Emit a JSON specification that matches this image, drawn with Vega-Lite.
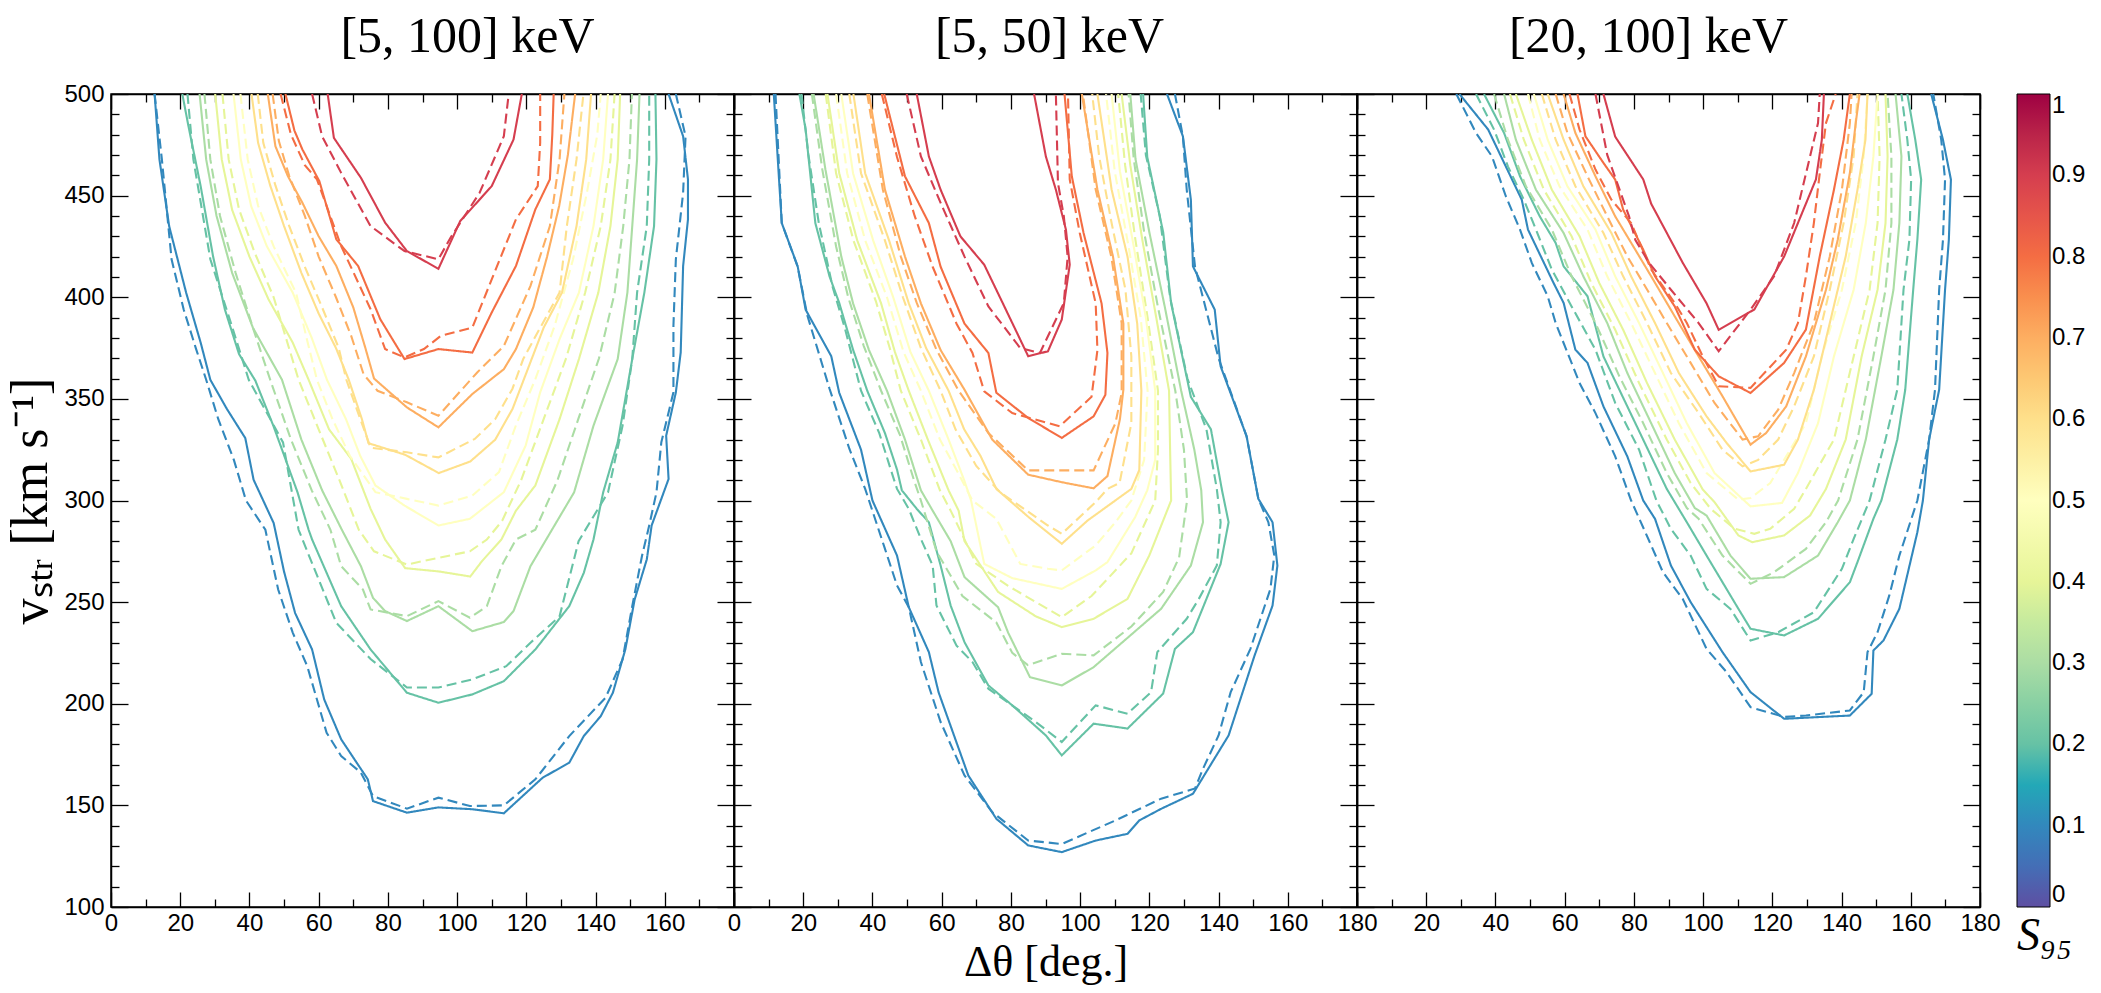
{
"$schema": "https://vega.github.io/schema/vega-lite/v6.json",
"padding": {"left": 4, "top": 11, "right": 0, "bottom": 0},
"background": "white",
"config": {
  "view": {"stroke": "black", "strokeWidth": 1.5},
  "axis": {"grid": false, "domainColor": "black", "domainWidth": 1.5, "tickColor": "black", "tickWidth": 1.3, "labelFont": "Liberation Sans", "labelFontSize": 24, "labelColor": "black", "titleFont": "Liberation Serif", "titleFontWeight": "normal", "titleColor": "black", "labelFlush": false, "labelOverlap": false},
  "title": {"font": "Liberation Serif", "fontSize": 50, "fontWeight": "normal", "color": "black"},
  "line": {"strokeWidth": 2.1, "strokeCap": "butt"},
  "legend": {"orient": "none", "legendX": 1906, "legendY": 0, "direction": "vertical", "gradientLength": 813, "gradientThickness": 33, "gradientStrokeColor": "black", "gradientStrokeWidth": 1, "labelFont": "Liberation Sans", "labelFontSize": 24, "labelColor": "black", "labelOffset": 6, "labelBaseline": "middle", "titleOrient": "bottom", "titleFont": "Liberation Serif", "titleFontSize": 46, "titleFontStyle": "italic", "titleFontWeight": "normal", "titleColor": "black", "titlePadding": 6, "titleAlign": "left", "padding": 0}
},
"datasets": {"c": [
{"p":1,"l":0.1,"d":0,"x":12.6,"y":500},{"p":1,"l":0.1,"d":0,"x":14,"y":467.8},{"p":1,"l":0.1,"d":0,"x":16.8,"y":435},{"p":1,"l":0.1,"d":0,"x":21.7,"y":402.3},{"p":1,"l":0.1,"d":0,"x":25.9,"y":377.7},{"p":1,"l":0.1,"d":0,"x":28.7,"y":359.4},{"p":1,"l":0.1,"d":0,"x":33.5,"y":345},{"p":1,"l":0.1,"d":0,"x":38.8,"y":330.7},{"p":1,"l":0.1,"d":0,"x":41.2,"y":310.2},{"p":1,"l":0.1,"d":0,"x":47,"y":288.9},{"p":1,"l":0.1,"d":0,"x":50,"y":265},{"p":1,"l":0.1,"d":0,"x":53.2,"y":244.6},{"p":1,"l":0.1,"d":0,"x":58.1,"y":226.7},{"p":1,"l":0.1,"d":0,"x":61.6,"y":202.1},{"p":1,"l":0.1,"d":0,"x":66.5,"y":182.5},{"p":1,"l":0.1,"d":0,"x":74.2,"y":162.8},{"p":1,"l":0.1,"d":0,"x":75.7,"y":152.1},{"p":1,"l":0.1,"d":0,"x":85.5,"y":146.4},{"p":1,"l":0.1,"d":0,"x":94.6,"y":149},{"p":1,"l":0.1,"d":0,"x":104.4,"y":148.1},{"p":1,"l":0.1,"d":0,"x":113.5,"y":146.1},{"p":1,"l":0.1,"d":0,"x":124.7,"y":163.6},{"p":1,"l":0.1,"d":0,"x":132.4,"y":171},{"p":1,"l":0.1,"d":0,"x":136.6,"y":184.1},{"p":1,"l":0.1,"d":0,"x":141.5,"y":193.9},{"p":1,"l":0.1,"d":0,"x":145,"y":205.4},{"p":1,"l":0.1,"d":0,"x":148.6,"y":226.7},{"p":1,"l":0.1,"d":0,"x":151.3,"y":251.3},{"p":1,"l":0.1,"d":0,"x":154.8,"y":271},{"p":1,"l":0.1,"d":0,"x":156.2,"y":287.7},{"p":1,"l":0.1,"d":0,"x":161.1,"y":310.6},{"p":1,"l":0.1,"d":0,"x":160.4,"y":331.9},{"p":1,"l":0.1,"d":0,"x":163.2,"y":353.2},{"p":1,"l":0.1,"d":0,"x":164.6,"y":372.8},{"p":1,"l":0.1,"d":0,"x":165.3,"y":415.4},{"p":1,"l":0.1,"d":0,"x":166.7,"y":438.3},{"p":1,"l":0.1,"d":0,"x":166.7,"y":458},{"p":1,"l":0.1,"d":0,"x":165.3,"y":479.2},{"p":1,"l":0.1,"d":0,"x":161.1,"y":500},
{"p":1,"l":0.1,"d":1,"x":12.6,"y":500},{"p":1,"l":0.1,"d":1,"x":14.7,"y":467.8},{"p":1,"l":0.1,"d":1,"x":17.5,"y":418.7},{"p":1,"l":0.1,"d":1,"x":21,"y":394},{"p":1,"l":0.1,"d":1,"x":24.5,"y":375},{"p":1,"l":0.1,"d":1,"x":27.5,"y":359.4},{"p":1,"l":0.1,"d":1,"x":31,"y":340},{"p":1,"l":0.1,"d":1,"x":35.5,"y":320},{"p":1,"l":0.1,"d":1,"x":39,"y":300},{"p":1,"l":0.1,"d":1,"x":44.6,"y":285.6},{"p":1,"l":0.1,"d":1,"x":48.3,"y":256.2},{"p":1,"l":0.1,"d":1,"x":52.5,"y":235},{"p":1,"l":0.1,"d":1,"x":56.7,"y":218.5},{"p":1,"l":0.1,"d":1,"x":62.3,"y":185.7},{"p":1,"l":0.1,"d":1,"x":66.5,"y":174.3},{"p":1,"l":0.1,"d":1,"x":72.2,"y":166.1},{"p":1,"l":0.1,"d":1,"x":75.7,"y":154.6},{"p":1,"l":0.1,"d":1,"x":85.5,"y":148.4},{"p":1,"l":0.1,"d":1,"x":94.6,"y":153.8},{"p":1,"l":0.1,"d":1,"x":103.7,"y":149.7},{"p":1,"l":0.1,"d":1,"x":113.5,"y":150},{"p":1,"l":0.1,"d":1,"x":122.6,"y":162.8},{"p":1,"l":0.1,"d":1,"x":132.4,"y":184.1},{"p":1,"l":0.1,"d":1,"x":142.9,"y":203},{"p":1,"l":0.1,"d":1,"x":147.8,"y":221.8},{"p":1,"l":0.1,"d":1,"x":150.6,"y":248},{"p":1,"l":0.1,"d":1,"x":153.4,"y":272.6},{"p":1,"l":0.1,"d":1,"x":155.5,"y":287.7},{"p":1,"l":0.1,"d":1,"x":157.6,"y":304},{"p":1,"l":0.1,"d":1,"x":159,"y":328.6},{"p":1,"l":0.1,"d":1,"x":162.5,"y":353.2},{"p":1,"l":0.1,"d":1,"x":162.5,"y":386},{"p":1,"l":0.1,"d":1,"x":163.2,"y":418.7},{"p":1,"l":0.1,"d":1,"x":165.3,"y":451.4},{"p":1,"l":0.1,"d":1,"x":166,"y":479.2},{"p":1,"l":0.1,"d":1,"x":163.2,"y":500},
{"p":1,"l":0.2,"d":0,"x":20.6,"y":500},{"p":1,"l":0.2,"d":0,"x":22.4,"y":484},{"p":1,"l":0.2,"d":0,"x":25.9,"y":454.7},{"p":1,"l":0.2,"d":0,"x":29.5,"y":420},{"p":1,"l":0.2,"d":0,"x":32.9,"y":394},{"p":1,"l":0.2,"d":0,"x":37,"y":372},{"p":1,"l":0.2,"d":0,"x":41.7,"y":359},{"p":1,"l":0.2,"d":0,"x":46.9,"y":336.8},{"p":1,"l":0.2,"d":0,"x":53.9,"y":304},{"p":1,"l":0.2,"d":0,"x":57.1,"y":285.6},{"p":1,"l":0.2,"d":0,"x":58.1,"y":280.8},{"p":1,"l":0.2,"d":0,"x":66.5,"y":248},{"p":1,"l":0.2,"d":0,"x":75,"y":226.7},{"p":1,"l":0.2,"d":0,"x":85.5,"y":205.4},{"p":1,"l":0.2,"d":0,"x":94.6,"y":200.5},{"p":1,"l":0.2,"d":0,"x":104.4,"y":204.6},{"p":1,"l":0.2,"d":0,"x":113.5,"y":211.1},{"p":1,"l":0.2,"d":0,"x":122.6,"y":226.7},{"p":1,"l":0.2,"d":0,"x":132.4,"y":248},{"p":1,"l":0.2,"d":0,"x":136.6,"y":264.4},{"p":1,"l":0.2,"d":0,"x":139.4,"y":280.8},{"p":1,"l":0.2,"d":0,"x":142.2,"y":304},{"p":1,"l":0.2,"d":0,"x":146.4,"y":328.6},{"p":1,"l":0.2,"d":0,"x":150.6,"y":369.6},{"p":1,"l":0.2,"d":0,"x":154.1,"y":402.3},{"p":1,"l":0.2,"d":0,"x":156.9,"y":435},{"p":1,"l":0.2,"d":0,"x":157.6,"y":467.8},{"p":1,"l":0.2,"d":0,"x":157.3,"y":500},
{"p":1,"l":0.2,"d":1,"x":22.1,"y":500},{"p":1,"l":0.2,"d":1,"x":23.8,"y":467.8},{"p":1,"l":0.2,"d":1,"x":28.7,"y":418.7},{"p":1,"l":0.2,"d":1,"x":34.3,"y":389.2},{"p":1,"l":0.2,"d":1,"x":39.8,"y":359.4},{"p":1,"l":0.2,"d":1,"x":49.7,"y":328.6},{"p":1,"l":0.2,"d":1,"x":54.2,"y":285.6},{"p":1,"l":0.2,"d":1,"x":56.7,"y":275},{"p":1,"l":0.2,"d":1,"x":65.1,"y":239.8},{"p":1,"l":0.2,"d":1,"x":75,"y":222},{"p":1,"l":0.2,"d":1,"x":85.5,"y":208},{"p":1,"l":0.2,"d":1,"x":94.6,"y":208},{"p":1,"l":0.2,"d":1,"x":104.4,"y":212},{"p":1,"l":0.2,"d":1,"x":114.2,"y":218.5},{"p":1,"l":0.2,"d":1,"x":121.2,"y":230},{"p":1,"l":0.2,"d":1,"x":129.6,"y":243},{"p":1,"l":0.2,"d":1,"x":135.1,"y":280},{"p":1,"l":0.2,"d":1,"x":143.6,"y":304},{"p":1,"l":0.2,"d":1,"x":147.8,"y":336.8},{"p":1,"l":0.2,"d":1,"x":150.6,"y":369.6},{"p":1,"l":0.2,"d":1,"x":152,"y":402.3},{"p":1,"l":0.2,"d":1,"x":154.8,"y":435},{"p":1,"l":0.2,"d":1,"x":155.5,"y":467.8},{"p":1,"l":0.2,"d":1,"x":155.5,"y":500},
{"p":1,"l":0.3,"d":0,"x":25.6,"y":500},{"p":1,"l":0.3,"d":0,"x":27.5,"y":467.8},{"p":1,"l":0.3,"d":0,"x":30.5,"y":440},{"p":1,"l":0.3,"d":0,"x":35,"y":412},{"p":1,"l":0.3,"d":0,"x":41,"y":385},{"p":1,"l":0.3,"d":0,"x":49.4,"y":359.4},{"p":1,"l":0.3,"d":0,"x":55,"y":330},{"p":1,"l":0.3,"d":0,"x":61,"y":305},{"p":1,"l":0.3,"d":0,"x":66.7,"y":285.6},{"p":1,"l":0.3,"d":0,"x":72.2,"y":267.7},{"p":1,"l":0.3,"d":0,"x":75.7,"y":252.1},{"p":1,"l":0.3,"d":0,"x":79.2,"y":245.6},{"p":1,"l":0.3,"d":0,"x":85.5,"y":240.7},{"p":1,"l":0.3,"d":0,"x":94.6,"y":248},{"p":1,"l":0.3,"d":0,"x":104.4,"y":235.7},{"p":1,"l":0.3,"d":0,"x":113.5,"y":240.2},{"p":1,"l":0.3,"d":0,"x":116.3,"y":245.6},{"p":1,"l":0.3,"d":0,"x":121.2,"y":267.7},{"p":1,"l":0.3,"d":0,"x":127.4,"y":285.6},{"p":1,"l":0.3,"d":0,"x":133.8,"y":304},{"p":1,"l":0.3,"d":0,"x":139.4,"y":336.8},{"p":1,"l":0.3,"d":0,"x":146.4,"y":369.6},{"p":1,"l":0.3,"d":0,"x":149.2,"y":402.3},{"p":1,"l":0.3,"d":0,"x":150.6,"y":435},{"p":1,"l":0.3,"d":0,"x":152,"y":467.8},{"p":1,"l":0.3,"d":0,"x":152.7,"y":500},
{"p":1,"l":0.3,"d":1,"x":27,"y":500},{"p":1,"l":0.3,"d":1,"x":28.7,"y":467.8},{"p":1,"l":0.3,"d":1,"x":31.5,"y":440},{"p":1,"l":0.3,"d":1,"x":36,"y":412},{"p":1,"l":0.3,"d":1,"x":41,"y":385},{"p":1,"l":0.3,"d":1,"x":46,"y":359.4},{"p":1,"l":0.3,"d":1,"x":52,"y":330},{"p":1,"l":0.3,"d":1,"x":58,"y":305},{"p":1,"l":0.3,"d":1,"x":63.4,"y":285.6},{"p":1,"l":0.3,"d":1,"x":66.5,"y":267.7},{"p":1,"l":0.3,"d":1,"x":72.8,"y":256.2},{"p":1,"l":0.3,"d":1,"x":75,"y":246.4},{"p":1,"l":0.3,"d":1,"x":85.5,"y":243.1},{"p":1,"l":0.3,"d":1,"x":94.6,"y":250.5},{"p":1,"l":0.3,"d":1,"x":103.7,"y":242.3},{"p":1,"l":0.3,"d":1,"x":108.6,"y":248},{"p":1,"l":0.3,"d":1,"x":112.8,"y":267.7},{"p":1,"l":0.3,"d":1,"x":117,"y":280.8},{"p":1,"l":0.3,"d":1,"x":122.6,"y":285.6},{"p":1,"l":0.3,"d":1,"x":129,"y":310},{"p":1,"l":0.3,"d":1,"x":135,"y":340},{"p":1,"l":0.3,"d":1,"x":141,"y":370},{"p":1,"l":0.3,"d":1,"x":145.5,"y":402},{"p":1,"l":0.3,"d":1,"x":148,"y":435},{"p":1,"l":0.3,"d":1,"x":149.8,"y":467.8},{"p":1,"l":0.3,"d":1,"x":150.5,"y":500},
{"p":1,"l":0.4,"d":0,"x":30.1,"y":500},{"p":1,"l":0.4,"d":0,"x":32,"y":467.8},{"p":1,"l":0.4,"d":0,"x":35,"y":443},{"p":1,"l":0.4,"d":0,"x":40,"y":420},{"p":1,"l":0.4,"d":0,"x":45.5,"y":399},{"p":1,"l":0.4,"d":0,"x":52.5,"y":377.7},{"p":1,"l":0.4,"d":0,"x":57.1,"y":359.4},{"p":1,"l":0.4,"d":0,"x":63,"y":335},{"p":1,"l":0.4,"d":0,"x":69.4,"y":320.5},{"p":1,"l":0.4,"d":0,"x":75,"y":295.9},{"p":1,"l":0.4,"d":0,"x":79.2,"y":280.8},{"p":1,"l":0.4,"d":0,"x":85,"y":266.7},{"p":1,"l":0.4,"d":0,"x":94.7,"y":265.1},{"p":1,"l":0.4,"d":0,"x":103.8,"y":262.6},{"p":1,"l":0.4,"d":0,"x":107.2,"y":270.2},{"p":1,"l":0.4,"d":0,"x":112.8,"y":280.8},{"p":1,"l":0.4,"d":0,"x":117,"y":295},{"p":1,"l":0.4,"d":0,"x":122.6,"y":307.4},{"p":1,"l":0.4,"d":0,"x":129.6,"y":340},{"p":1,"l":0.4,"d":0,"x":135.2,"y":369.6},{"p":1,"l":0.4,"d":0,"x":140.8,"y":402.3},{"p":1,"l":0.4,"d":0,"x":144.3,"y":435},{"p":1,"l":0.4,"d":0,"x":146.4,"y":467.8},{"p":1,"l":0.4,"d":0,"x":147.1,"y":500},
{"p":1,"l":0.4,"d":1,"x":32.2,"y":500},{"p":1,"l":0.4,"d":1,"x":34,"y":467.8},{"p":1,"l":0.4,"d":1,"x":37,"y":443.2},{"p":1,"l":0.4,"d":1,"x":41.5,"y":422},{"p":1,"l":0.4,"d":1,"x":47,"y":400},{"p":1,"l":0.4,"d":1,"x":54.2,"y":359.4},{"p":1,"l":0.4,"d":1,"x":60,"y":335},{"p":1,"l":0.4,"d":1,"x":66,"y":310},{"p":1,"l":0.4,"d":1,"x":71.6,"y":285.6},{"p":1,"l":0.4,"d":1,"x":76,"y":275},{"p":1,"l":0.4,"d":1,"x":85.5,"y":268.5},{"p":1,"l":0.4,"d":1,"x":94.6,"y":271.8},{"p":1,"l":0.4,"d":1,"x":103.7,"y":275},{"p":1,"l":0.4,"d":1,"x":108.6,"y":280.8},{"p":1,"l":0.4,"d":1,"x":113,"y":290},{"p":1,"l":0.4,"d":1,"x":118.5,"y":310},{"p":1,"l":0.4,"d":1,"x":125,"y":340},{"p":1,"l":0.4,"d":1,"x":131.5,"y":370},{"p":1,"l":0.4,"d":1,"x":137,"y":402.3},{"p":1,"l":0.4,"d":1,"x":141.5,"y":435},{"p":1,"l":0.4,"d":1,"x":144.3,"y":467.8},{"p":1,"l":0.4,"d":1,"x":145.5,"y":500},
{"p":1,"l":0.5,"d":0,"x":35.4,"y":500},{"p":1,"l":0.5,"d":0,"x":37.5,"y":467.8},{"p":1,"l":0.5,"d":0,"x":40.5,"y":444.8},{"p":1,"l":0.5,"d":0,"x":45,"y":425.2},{"p":1,"l":0.5,"d":0,"x":52.5,"y":402.3},{"p":1,"l":0.5,"d":0,"x":58,"y":380},{"p":1,"l":0.5,"d":0,"x":62.4,"y":359.4},{"p":1,"l":0.5,"d":0,"x":67.9,"y":340},{"p":1,"l":0.5,"d":0,"x":72,"y":322},{"p":1,"l":0.5,"d":0,"x":76.4,"y":307.4},{"p":1,"l":0.5,"d":0,"x":84.8,"y":297.5},{"p":1,"l":0.5,"d":0,"x":94.6,"y":287.7},{"p":1,"l":0.5,"d":0,"x":103.7,"y":291},{"p":1,"l":0.5,"d":0,"x":113.5,"y":304.1},{"p":1,"l":0.5,"d":0,"x":119.8,"y":327},{"p":1,"l":0.5,"d":0,"x":124,"y":353.2},{"p":1,"l":0.5,"d":0,"x":129.6,"y":379.4},{"p":1,"l":0.5,"d":0,"x":135.2,"y":402.3},{"p":1,"l":0.5,"d":0,"x":139.4,"y":435},{"p":1,"l":0.5,"d":0,"x":142.2,"y":467.8},{"p":1,"l":0.5,"d":0,"x":143.6,"y":500},
{"p":1,"l":0.5,"d":1,"x":37.4,"y":500},{"p":1,"l":0.5,"d":1,"x":39.5,"y":467.8},{"p":1,"l":0.5,"d":1,"x":42.5,"y":445},{"p":1,"l":0.5,"d":1,"x":47,"y":425},{"p":1,"l":0.5,"d":1,"x":53.5,"y":402},{"p":1,"l":0.5,"d":1,"x":56.5,"y":380},{"p":1,"l":0.5,"d":1,"x":59.5,"y":359.4},{"p":1,"l":0.5,"d":1,"x":64,"y":340},{"p":1,"l":0.5,"d":1,"x":69,"y":322},{"p":1,"l":0.5,"d":1,"x":76.4,"y":304.1},{"p":1,"l":0.5,"d":1,"x":85.5,"y":300.8},{"p":1,"l":0.5,"d":1,"x":94.6,"y":297.5},{"p":1,"l":0.5,"d":1,"x":104.4,"y":302.4},{"p":1,"l":0.5,"d":1,"x":112.1,"y":314},{"p":1,"l":0.5,"d":1,"x":117,"y":337},{"p":1,"l":0.5,"d":1,"x":122.6,"y":359.7},{"p":1,"l":0.5,"d":1,"x":128.2,"y":386},{"p":1,"l":0.5,"d":1,"x":133.5,"y":418.7},{"p":1,"l":0.5,"d":1,"x":137.5,"y":451.4},{"p":1,"l":0.5,"d":1,"x":140.5,"y":480},{"p":1,"l":0.5,"d":1,"x":141.5,"y":500},
{"p":1,"l":0.6,"d":0,"x":40.6,"y":500},{"p":1,"l":0.6,"d":0,"x":42.5,"y":476},{"p":1,"l":0.6,"d":0,"x":46,"y":455},{"p":1,"l":0.6,"d":0,"x":50,"y":435},{"p":1,"l":0.6,"d":0,"x":55,"y":412},{"p":1,"l":0.6,"d":0,"x":60,"y":392},{"p":1,"l":0.6,"d":0,"x":65,"y":375},{"p":1,"l":0.6,"d":0,"x":68.7,"y":359.4},{"p":1,"l":0.6,"d":0,"x":72.5,"y":340},{"p":1,"l":0.6,"d":0,"x":74.4,"y":328.2},{"p":1,"l":0.6,"d":0,"x":85,"y":322.5},{"p":1,"l":0.6,"d":0,"x":94.7,"y":313.5},{"p":1,"l":0.6,"d":0,"x":103.8,"y":319.2},{"p":1,"l":0.6,"d":0,"x":111,"y":329.9},{"p":1,"l":0.6,"d":0,"x":116,"y":345},{"p":1,"l":0.6,"d":0,"x":120.5,"y":365},{"p":1,"l":0.6,"d":0,"x":125,"y":385},{"p":1,"l":0.6,"d":0,"x":130.3,"y":402.3},{"p":1,"l":0.6,"d":0,"x":134.5,"y":435},{"p":1,"l":0.6,"d":0,"x":137.3,"y":467.8},{"p":1,"l":0.6,"d":0,"x":138.7,"y":500},
{"p":1,"l":0.6,"d":1,"x":42.4,"y":500},{"p":1,"l":0.6,"d":1,"x":44,"y":476},{"p":1,"l":0.6,"d":1,"x":47.5,"y":455},{"p":1,"l":0.6,"d":1,"x":51.5,"y":435},{"p":1,"l":0.6,"d":1,"x":56,"y":415},{"p":1,"l":0.6,"d":1,"x":61,"y":395},{"p":1,"l":0.6,"d":1,"x":65.8,"y":375},{"p":1,"l":0.6,"d":1,"x":68,"y":359.4},{"p":1,"l":0.6,"d":1,"x":71,"y":345},{"p":1,"l":0.6,"d":1,"x":75,"y":326},{"p":1,"l":0.6,"d":1,"x":85.5,"y":323.7},{"p":1,"l":0.6,"d":1,"x":94.6,"y":321.2},{"p":1,"l":0.6,"d":1,"x":105.1,"y":330.3},{"p":1,"l":0.6,"d":1,"x":111,"y":340},{"p":1,"l":0.6,"d":1,"x":116,"y":355},{"p":1,"l":0.6,"d":1,"x":119.1,"y":369.6},{"p":1,"l":0.6,"d":1,"x":124,"y":385},{"p":1,"l":0.6,"d":1,"x":129.6,"y":402.3},{"p":1,"l":0.6,"d":1,"x":131.7,"y":435},{"p":1,"l":0.6,"d":1,"x":134.5,"y":467.8},{"p":1,"l":0.6,"d":1,"x":136.5,"y":500},
{"p":1,"l":0.7,"d":0,"x":45.3,"y":500},{"p":1,"l":0.7,"d":0,"x":47.5,"y":474.3},{"p":1,"l":0.7,"d":0,"x":51.1,"y":459.6},{"p":1,"l":0.7,"d":0,"x":55.3,"y":446.5},{"p":1,"l":0.7,"d":0,"x":60,"y":430},{"p":1,"l":0.7,"d":0,"x":65.1,"y":415.4},{"p":1,"l":0.7,"d":0,"x":70,"y":395},{"p":1,"l":0.7,"d":0,"x":73.5,"y":375},{"p":1,"l":0.7,"d":0,"x":76,"y":360},{"p":1,"l":0.7,"d":0,"x":85.5,"y":345.8},{"p":1,"l":0.7,"d":0,"x":94.6,"y":336},{"p":1,"l":0.7,"d":0,"x":104.4,"y":352.4},{"p":1,"l":0.7,"d":0,"x":113.5,"y":364.6},{"p":1,"l":0.7,"d":0,"x":117,"y":374.5},{"p":1,"l":0.7,"d":0,"x":122,"y":395},{"p":1,"l":0.7,"d":0,"x":126,"y":420},{"p":1,"l":0.7,"d":0,"x":129.5,"y":445},{"p":1,"l":0.7,"d":0,"x":132,"y":470},{"p":1,"l":0.7,"d":0,"x":134.1,"y":500},
{"p":1,"l":0.7,"d":1,"x":46.7,"y":500},{"p":1,"l":0.7,"d":1,"x":48.5,"y":476.8},{"p":1,"l":0.7,"d":1,"x":51.5,"y":459.6},{"p":1,"l":0.7,"d":1,"x":56,"y":440},{"p":1,"l":0.7,"d":1,"x":60,"y":420},{"p":1,"l":0.7,"d":1,"x":65,"y":400},{"p":1,"l":0.7,"d":1,"x":69.4,"y":381},{"p":1,"l":0.7,"d":1,"x":73,"y":362},{"p":1,"l":0.7,"d":1,"x":77,"y":354},{"p":1,"l":0.7,"d":1,"x":85.5,"y":348.3},{"p":1,"l":0.7,"d":1,"x":94.6,"y":341.7},{"p":1,"l":0.7,"d":1,"x":105.8,"y":363},{"p":1,"l":0.7,"d":1,"x":113.5,"y":376},{"p":1,"l":0.7,"d":1,"x":121.2,"y":405.6},{"p":1,"l":0.7,"d":1,"x":126.8,"y":435},{"p":1,"l":0.7,"d":1,"x":129.6,"y":467.8},{"p":1,"l":0.7,"d":1,"x":131,"y":500},
{"p":1,"l":0.8,"d":0,"x":50.4,"y":500},{"p":1,"l":0.8,"d":0,"x":53,"y":482},{"p":1,"l":0.8,"d":0,"x":55.3,"y":472.7},{"p":1,"l":0.8,"d":0,"x":60.2,"y":457.1},{"p":1,"l":0.8,"d":0,"x":65.1,"y":428.5},{"p":1,"l":0.8,"d":0,"x":71.4,"y":415.4},{"p":1,"l":0.8,"d":0,"x":77.8,"y":389.2},{"p":1,"l":0.8,"d":0,"x":84.8,"y":369.6},{"p":1,"l":0.8,"d":0,"x":94.6,"y":374.5},{"p":1,"l":0.8,"d":0,"x":104.4,"y":372.8},{"p":1,"l":0.8,"d":0,"x":110,"y":392.5},{"p":1,"l":0.8,"d":0,"x":117,"y":415.4},{"p":1,"l":0.8,"d":0,"x":122.6,"y":443.2},{"p":1,"l":0.8,"d":0,"x":126.8,"y":458},{"p":1,"l":0.8,"d":0,"x":127.5,"y":480},{"p":1,"l":0.8,"d":0,"x":127.9,"y":500},
{"p":1,"l":0.8,"d":1,"x":49,"y":500},{"p":1,"l":0.8,"d":1,"x":52,"y":480},{"p":1,"l":0.8,"d":1,"x":56,"y":465},{"p":1,"l":0.8,"d":1,"x":59.5,"y":458},{"p":1,"l":0.8,"d":1,"x":66.5,"y":425.2},{"p":1,"l":0.8,"d":1,"x":75,"y":394.1},{"p":1,"l":0.8,"d":1,"x":79.2,"y":374.5},{"p":1,"l":0.8,"d":1,"x":84.8,"y":370.4},{"p":1,"l":0.8,"d":1,"x":90.4,"y":374.5},{"p":1,"l":0.8,"d":1,"x":95.3,"y":381},{"p":1,"l":0.8,"d":1,"x":104.4,"y":385.1},{"p":1,"l":0.8,"d":1,"x":110,"y":408.8},{"p":1,"l":0.8,"d":1,"x":117,"y":438.3},{"p":1,"l":0.8,"d":1,"x":123.3,"y":454.7},{"p":1,"l":0.8,"d":1,"x":124,"y":476},{"p":1,"l":0.8,"d":1,"x":124,"y":500},
{"p":1,"l":0.9,"d":0,"x":62.6,"y":500},{"p":1,"l":0.9,"d":0,"x":64.4,"y":478.4},{"p":1,"l":0.9,"d":0,"x":72.2,"y":458.8},{"p":1,"l":0.9,"d":0,"x":79.2,"y":436.7},{"p":1,"l":0.9,"d":0,"x":85.5,"y":422.7},{"p":1,"l":0.9,"d":0,"x":94.6,"y":414},{"p":1,"l":0.9,"d":0,"x":100.9,"y":437.5},{"p":1,"l":0.9,"d":0,"x":110,"y":454.7},{"p":1,"l":0.9,"d":0,"x":116.3,"y":477.6},{"p":1,"l":0.9,"d":0,"x":118.7,"y":500},
{"p":1,"l":0.9,"d":1,"x":58.1,"y":500},{"p":1,"l":0.9,"d":1,"x":61,"y":479.2},{"p":1,"l":0.9,"d":1,"x":66.5,"y":461.2},{"p":1,"l":0.9,"d":1,"x":75,"y":435},{"p":1,"l":0.9,"d":1,"x":84.8,"y":422.7},{"p":1,"l":0.9,"d":1,"x":94.6,"y":418.7},{"p":1,"l":0.9,"d":1,"x":98.1,"y":429.3},{"p":1,"l":0.9,"d":1,"x":106.5,"y":451.4},{"p":1,"l":0.9,"d":1,"x":113.5,"y":479.2},{"p":1,"l":0.9,"d":1,"x":114.9,"y":500},
{"p":2,"l":0.1,"d":0,"x":11.5,"y":500},{"p":2,"l":0.1,"d":0,"x":12.6,"y":469.3},{"p":2,"l":0.1,"d":0,"x":13.8,"y":436.5},{"p":2,"l":0.1,"d":0,"x":18.4,"y":415.2},{"p":2,"l":0.1,"d":0,"x":20.7,"y":393.9},{"p":2,"l":0.1,"d":0,"x":28.1,"y":371},{"p":2,"l":0.1,"d":0,"x":30.4,"y":353},{"p":2,"l":0.1,"d":0,"x":36.7,"y":325},{"p":2,"l":0.1,"d":0,"x":40,"y":300},{"p":2,"l":0.1,"d":0,"x":47.1,"y":272.9},{"p":2,"l":0.1,"d":0,"x":50.5,"y":247.5},{"p":2,"l":0.1,"d":0,"x":56.3,"y":225.4},{"p":2,"l":0.1,"d":0,"x":59.1,"y":205.7},{"p":2,"l":0.1,"d":0,"x":67.7,"y":164.7},{"p":2,"l":0.1,"d":0,"x":75.8,"y":143.4},{"p":2,"l":0.1,"d":0,"x":85,"y":130.3},{"p":2,"l":0.1,"d":0,"x":94.7,"y":127},{"p":2,"l":0.1,"d":0,"x":104.5,"y":132.7},{"p":2,"l":0.1,"d":0,"x":113.7,"y":136},{"p":2,"l":0.1,"d":0,"x":117.1,"y":142.6},{"p":2,"l":0.1,"d":0,"x":123.4,"y":148.3},{"p":2,"l":0.1,"d":0,"x":132.6,"y":155.7},{"p":2,"l":0.1,"d":0,"x":142.9,"y":184.4},{"p":2,"l":0.1,"d":0,"x":150.4,"y":223.7},{"p":2,"l":0.1,"d":0,"x":155.6,"y":248.3},{"p":2,"l":0.1,"d":0,"x":157,"y":268},{"p":2,"l":0.1,"d":0,"x":155.6,"y":289.3},{"p":2,"l":0.1,"d":0,"x":151.5,"y":300.8},{"p":2,"l":0.1,"d":0,"x":148.1,"y":331.6},{"p":2,"l":0.1,"d":0,"x":140.6,"y":366},{"p":2,"l":0.1,"d":0,"x":138.9,"y":393.9},{"p":2,"l":0.1,"d":0,"x":132.6,"y":415.2},{"p":2,"l":0.1,"d":0,"x":132,"y":448},{"p":2,"l":0.1,"d":0,"x":129.7,"y":479.2},{"p":2,"l":0.1,"d":0,"x":125.1,"y":500},
{"p":2,"l":0.1,"d":1,"x":12,"y":500},{"p":2,"l":0.1,"d":1,"x":13.8,"y":436.5},{"p":2,"l":0.1,"d":1,"x":18.4,"y":415},{"p":2,"l":0.1,"d":1,"x":21.2,"y":391},{"p":2,"l":0.1,"d":1,"x":27.6,"y":355},{"p":2,"l":0.1,"d":1,"x":33.3,"y":325.6},{"p":2,"l":0.1,"d":1,"x":37.9,"y":305.7},{"p":2,"l":0.1,"d":1,"x":43.6,"y":276.3},{"p":2,"l":0.1,"d":1,"x":47.1,"y":258.2},{"p":2,"l":0.1,"d":1,"x":50.5,"y":247.5},{"p":2,"l":0.1,"d":1,"x":54,"y":220.5},{"p":2,"l":0.1,"d":1,"x":59.7,"y":191},{"p":2,"l":0.1,"d":1,"x":66.6,"y":164.7},{"p":2,"l":0.1,"d":1,"x":74.6,"y":146.7},{"p":2,"l":0.1,"d":1,"x":85,"y":132.7},{"p":2,"l":0.1,"d":1,"x":94.7,"y":131},{"p":2,"l":0.1,"d":1,"x":110.2,"y":142.6},{"p":2,"l":0.1,"d":1,"x":123.4,"y":153.3},{"p":2,"l":0.1,"d":1,"x":133.2,"y":158.3},{"p":2,"l":0.1,"d":1,"x":135.5,"y":168},{"p":2,"l":0.1,"d":1,"x":140,"y":184.4},{"p":2,"l":0.1,"d":1,"x":143.5,"y":205.7},{"p":2,"l":0.1,"d":1,"x":149.2,"y":227},{"p":2,"l":0.1,"d":1,"x":155,"y":256.6},{"p":2,"l":0.1,"d":1,"x":156.1,"y":273},{"p":2,"l":0.1,"d":1,"x":154.4,"y":289.3},{"p":2,"l":0.1,"d":1,"x":151.5,"y":300.8},{"p":2,"l":0.1,"d":1,"x":148.1,"y":331.6},{"p":2,"l":0.1,"d":1,"x":140,"y":370},{"p":2,"l":0.1,"d":1,"x":133.2,"y":415},{"p":2,"l":0.1,"d":1,"x":130.8,"y":453},{"p":2,"l":0.1,"d":1,"x":129.7,"y":479},{"p":2,"l":0.1,"d":1,"x":127.4,"y":500},
{"p":2,"l":0.2,"d":0,"x":18.9,"y":500},{"p":2,"l":0.2,"d":0,"x":20.7,"y":482.5},{"p":2,"l":0.2,"d":0,"x":23.5,"y":436.5},{"p":2,"l":0.2,"d":0,"x":27.6,"y":410.3},{"p":2,"l":0.2,"d":0,"x":30.4,"y":397.2},{"p":2,"l":0.2,"d":0,"x":34.4,"y":374.2},{"p":2,"l":0.2,"d":0,"x":38.5,"y":354},{"p":2,"l":0.2,"d":0,"x":43.6,"y":333.2},{"p":2,"l":0.2,"d":0,"x":47.1,"y":315.2},{"p":2,"l":0.2,"d":0,"x":48.5,"y":305},{"p":2,"l":0.2,"d":0,"x":52.8,"y":295.9},{"p":2,"l":0.2,"d":0,"x":56.3,"y":289.3},{"p":2,"l":0.2,"d":0,"x":59.7,"y":268},{"p":2,"l":0.2,"d":0,"x":62.6,"y":248.3},{"p":2,"l":0.2,"d":0,"x":66.6,"y":230.3},{"p":2,"l":0.2,"d":0,"x":73.5,"y":209},{"p":2,"l":0.2,"d":0,"x":80.4,"y":199.2},{"p":2,"l":0.2,"d":0,"x":90.1,"y":184.4},{"p":2,"l":0.2,"d":0,"x":94.7,"y":174.6},{"p":2,"l":0.2,"d":0,"x":103.9,"y":190.2},{"p":2,"l":0.2,"d":0,"x":113.7,"y":187.8},{"p":2,"l":0.2,"d":0,"x":124,"y":205},{"p":2,"l":0.2,"d":0,"x":127.4,"y":227},{"p":2,"l":0.2,"d":0,"x":132.6,"y":235.2},{"p":2,"l":0.2,"d":0,"x":140.6,"y":268.8},{"p":2,"l":0.2,"d":0,"x":142.9,"y":289.3},{"p":2,"l":0.2,"d":0,"x":141,"y":305},{"p":2,"l":0.2,"d":0,"x":137.8,"y":335},{"p":2,"l":0.2,"d":0,"x":132,"y":351},{"p":2,"l":0.2,"d":0,"x":126.3,"y":397},{"p":2,"l":0.2,"d":0,"x":124,"y":432},{"p":2,"l":0.2,"d":0,"x":119.4,"y":469},{"p":2,"l":0.2,"d":0,"x":118.2,"y":500},
{"p":2,"l":0.2,"d":1,"x":19.5,"y":500},{"p":2,"l":0.2,"d":1,"x":21.5,"y":470},{"p":2,"l":0.2,"d":1,"x":24.5,"y":436.5},{"p":2,"l":0.2,"d":1,"x":28.5,"y":405},{"p":2,"l":0.2,"d":1,"x":32,"y":385},{"p":2,"l":0.2,"d":1,"x":36.7,"y":354},{"p":2,"l":0.2,"d":1,"x":42,"y":333},{"p":2,"l":0.2,"d":1,"x":45.9,"y":312},{"p":2,"l":0.2,"d":1,"x":47.1,"y":305.7},{"p":2,"l":0.2,"d":1,"x":50.5,"y":295.9},{"p":2,"l":0.2,"d":1,"x":54,"y":281.1},{"p":2,"l":0.2,"d":1,"x":57.4,"y":268},{"p":2,"l":0.2,"d":1,"x":58.5,"y":248.3},{"p":2,"l":0.2,"d":1,"x":64.3,"y":228.6},{"p":2,"l":0.2,"d":1,"x":68.9,"y":220.5},{"p":2,"l":0.2,"d":1,"x":73.5,"y":207.4},{"p":2,"l":0.2,"d":1,"x":87.2,"y":191},{"p":2,"l":0.2,"d":1,"x":94.7,"y":181.2},{"p":2,"l":0.2,"d":1,"x":104.5,"y":199.2},{"p":2,"l":0.2,"d":1,"x":113.7,"y":195.1},{"p":2,"l":0.2,"d":1,"x":120.5,"y":205.7},{"p":2,"l":0.2,"d":1,"x":122.3,"y":225.4},{"p":2,"l":0.2,"d":1,"x":130.8,"y":241.8},{"p":2,"l":0.2,"d":1,"x":134.3,"y":251.6},{"p":2,"l":0.2,"d":1,"x":139.5,"y":268},{"p":2,"l":0.2,"d":1,"x":140.6,"y":289.3},{"p":2,"l":0.2,"d":1,"x":139.5,"y":305.7},{"p":2,"l":0.2,"d":1,"x":136.5,"y":335},{"p":2,"l":0.2,"d":1,"x":131,"y":360},{"p":2,"l":0.2,"d":1,"x":126,"y":400},{"p":2,"l":0.2,"d":1,"x":123,"y":440},{"p":2,"l":0.2,"d":1,"x":119,"y":470},{"p":2,"l":0.2,"d":1,"x":117.5,"y":500},
{"p":2,"l":0.3,"d":0,"x":23,"y":500},{"p":2,"l":0.3,"d":0,"x":26.4,"y":463},{"p":2,"l":0.3,"d":0,"x":31,"y":420},{"p":2,"l":0.3,"d":0,"x":34.4,"y":397},{"p":2,"l":0.3,"d":0,"x":39,"y":374},{"p":2,"l":0.3,"d":0,"x":44.2,"y":354},{"p":2,"l":0.3,"d":0,"x":49.4,"y":330},{"p":2,"l":0.3,"d":0,"x":54,"y":305},{"p":2,"l":0.3,"d":0,"x":57.4,"y":295},{"p":2,"l":0.3,"d":0,"x":62.6,"y":280},{"p":2,"l":0.3,"d":0,"x":66.6,"y":262.3},{"p":2,"l":0.3,"d":0,"x":76.3,"y":247.5},{"p":2,"l":0.3,"d":0,"x":79.2,"y":235},{"p":2,"l":0.3,"d":0,"x":85.5,"y":213.1},{"p":2,"l":0.3,"d":0,"x":94.7,"y":209},{"p":2,"l":0.3,"d":0,"x":103.9,"y":218},{"p":2,"l":0.3,"d":0,"x":123.4,"y":246.7},{"p":2,"l":0.3,"d":0,"x":132,"y":268},{"p":2,"l":0.3,"d":0,"x":135.5,"y":289.3},{"p":2,"l":0.3,"d":0,"x":135,"y":305},{"p":2,"l":0.3,"d":0,"x":133,"y":325},{"p":2,"l":0.3,"d":0,"x":129.2,"y":354},{"p":2,"l":0.3,"d":0,"x":124.5,"y":395},{"p":2,"l":0.3,"d":0,"x":120,"y":432},{"p":2,"l":0.3,"d":0,"x":116,"y":468},{"p":2,"l":0.3,"d":0,"x":114.5,"y":500},
{"p":2,"l":0.3,"d":1,"x":22.5,"y":500},{"p":2,"l":0.3,"d":1,"x":25.5,"y":463},{"p":2,"l":0.3,"d":1,"x":29.5,"y":425},{"p":2,"l":0.3,"d":1,"x":33,"y":400},{"p":2,"l":0.3,"d":1,"x":37.5,"y":376},{"p":2,"l":0.3,"d":1,"x":42.5,"y":354},{"p":2,"l":0.3,"d":1,"x":48,"y":332},{"p":2,"l":0.3,"d":1,"x":52,"y":310},{"p":2,"l":0.3,"d":1,"x":54,"y":300},{"p":2,"l":0.3,"d":1,"x":58.5,"y":275},{"p":2,"l":0.3,"d":1,"x":66,"y":253},{"p":2,"l":0.3,"d":1,"x":75.8,"y":240},{"p":2,"l":0.3,"d":1,"x":80.4,"y":225},{"p":2,"l":0.3,"d":1,"x":84.9,"y":219},{"p":2,"l":0.3,"d":1,"x":94.7,"y":224.6},{"p":2,"l":0.3,"d":1,"x":103.9,"y":223.8},{"p":2,"l":0.3,"d":1,"x":114.8,"y":238},{"p":2,"l":0.3,"d":1,"x":124,"y":255},{"p":2,"l":0.3,"d":1,"x":128.6,"y":272},{"p":2,"l":0.3,"d":1,"x":130.9,"y":300},{"p":2,"l":0.3,"d":1,"x":130,"y":325},{"p":2,"l":0.3,"d":1,"x":127.5,"y":354},{"p":2,"l":0.3,"d":1,"x":122.5,"y":395},{"p":2,"l":0.3,"d":1,"x":118.5,"y":432},{"p":2,"l":0.3,"d":1,"x":115.5,"y":468},{"p":2,"l":0.3,"d":1,"x":114,"y":500},
{"p":2,"l":0.4,"d":0,"x":27,"y":500},{"p":2,"l":0.4,"d":0,"x":30.4,"y":461},{"p":2,"l":0.4,"d":0,"x":35.6,"y":428},{"p":2,"l":0.4,"d":0,"x":42.5,"y":397},{"p":2,"l":0.4,"d":0,"x":46.5,"y":373},{"p":2,"l":0.4,"d":0,"x":50.5,"y":354},{"p":2,"l":0.4,"d":0,"x":56,"y":330},{"p":2,"l":0.4,"d":0,"x":62,"y":305},{"p":2,"l":0.4,"d":0,"x":64.9,"y":295},{"p":2,"l":0.4,"d":0,"x":66.6,"y":280},{"p":2,"l":0.4,"d":0,"x":76.3,"y":255},{"p":2,"l":0.4,"d":0,"x":87.2,"y":243},{"p":2,"l":0.4,"d":0,"x":94.7,"y":237.7},{"p":2,"l":0.4,"d":0,"x":103.9,"y":241.8},{"p":2,"l":0.4,"d":0,"x":113.7,"y":251.6},{"p":2,"l":0.4,"d":0,"x":120,"y":273},{"p":2,"l":0.4,"d":0,"x":126.3,"y":300},{"p":2,"l":0.4,"d":0,"x":126,"y":325},{"p":2,"l":0.4,"d":0,"x":125.7,"y":354},{"p":2,"l":0.4,"d":0,"x":122,"y":390},{"p":2,"l":0.4,"d":0,"x":118,"y":428},{"p":2,"l":0.4,"d":0,"x":114.5,"y":465},{"p":2,"l":0.4,"d":0,"x":112,"y":500},
{"p":2,"l":0.4,"d":1,"x":26.5,"y":500},{"p":2,"l":0.4,"d":1,"x":29.5,"y":461},{"p":2,"l":0.4,"d":1,"x":34.5,"y":428},{"p":2,"l":0.4,"d":1,"x":41,"y":398},{"p":2,"l":0.4,"d":1,"x":45,"y":375},{"p":2,"l":0.4,"d":1,"x":48.2,"y":354},{"p":2,"l":0.4,"d":1,"x":54,"y":330},{"p":2,"l":0.4,"d":1,"x":59.5,"y":305},{"p":2,"l":0.4,"d":1,"x":62.6,"y":295},{"p":2,"l":0.4,"d":1,"x":70,"y":268.8},{"p":2,"l":0.4,"d":1,"x":79.2,"y":258},{"p":2,"l":0.4,"d":1,"x":94.7,"y":242.6},{"p":2,"l":0.4,"d":1,"x":103.3,"y":253},{"p":2,"l":0.4,"d":1,"x":114.8,"y":274},{"p":2,"l":0.4,"d":1,"x":121.7,"y":300},{"p":2,"l":0.4,"d":1,"x":122.5,"y":325},{"p":2,"l":0.4,"d":1,"x":122.5,"y":354},{"p":2,"l":0.4,"d":1,"x":119.5,"y":390},{"p":2,"l":0.4,"d":1,"x":116,"y":428},{"p":2,"l":0.4,"d":1,"x":113,"y":465},{"p":2,"l":0.4,"d":1,"x":111,"y":500},
{"p":2,"l":0.5,"d":0,"x":31,"y":500},{"p":2,"l":0.5,"d":0,"x":34.4,"y":461},{"p":2,"l":0.5,"d":0,"x":40.2,"y":428},{"p":2,"l":0.5,"d":0,"x":46,"y":400},{"p":2,"l":0.5,"d":0,"x":51,"y":373},{"p":2,"l":0.5,"d":0,"x":56.3,"y":354},{"p":2,"l":0.5,"d":0,"x":62,"y":330},{"p":2,"l":0.5,"d":0,"x":66.5,"y":310},{"p":2,"l":0.5,"d":0,"x":68.5,"y":300},{"p":2,"l":0.5,"d":0,"x":72.3,"y":268.8},{"p":2,"l":0.5,"d":0,"x":80.4,"y":261.8},{"p":2,"l":0.5,"d":0,"x":94.7,"y":256.5},{"p":2,"l":0.5,"d":0,"x":104.5,"y":265.6},{"p":2,"l":0.5,"d":0,"x":107.9,"y":269.7},{"p":2,"l":0.5,"d":0,"x":115.9,"y":291.8},{"p":2,"l":0.5,"d":0,"x":119.4,"y":305},{"p":2,"l":0.5,"d":0,"x":121.7,"y":320},{"p":2,"l":0.5,"d":0,"x":121.7,"y":354},{"p":2,"l":0.5,"d":0,"x":119,"y":390},{"p":2,"l":0.5,"d":0,"x":115.5,"y":425},{"p":2,"l":0.5,"d":0,"x":111.5,"y":462},{"p":2,"l":0.5,"d":0,"x":109.1,"y":500},
{"p":2,"l":0.5,"d":1,"x":29.5,"y":500},{"p":2,"l":0.5,"d":1,"x":32.7,"y":461},{"p":2,"l":0.5,"d":1,"x":37.9,"y":428},{"p":2,"l":0.5,"d":1,"x":44.2,"y":400},{"p":2,"l":0.5,"d":1,"x":49,"y":373},{"p":2,"l":0.5,"d":1,"x":54,"y":354},{"p":2,"l":0.5,"d":1,"x":59.5,"y":330},{"p":2,"l":0.5,"d":1,"x":64.3,"y":315},{"p":2,"l":0.5,"d":1,"x":68.9,"y":300},{"p":2,"l":0.5,"d":1,"x":75.8,"y":291},{"p":2,"l":0.5,"d":1,"x":82.7,"y":268.8},{"p":2,"l":0.5,"d":1,"x":90.7,"y":266.4},{"p":2,"l":0.5,"d":1,"x":94.7,"y":265.6},{"p":2,"l":0.5,"d":1,"x":104.5,"y":277.9},{"p":2,"l":0.5,"d":1,"x":110.2,"y":289.3},{"p":2,"l":0.5,"d":1,"x":114.8,"y":300},{"p":2,"l":0.5,"d":1,"x":118.5,"y":320},{"p":2,"l":0.5,"d":1,"x":119.5,"y":354},{"p":2,"l":0.5,"d":1,"x":117.5,"y":390},{"p":2,"l":0.5,"d":1,"x":114,"y":425},{"p":2,"l":0.5,"d":1,"x":110,"y":462},{"p":2,"l":0.5,"d":1,"x":107.5,"y":500},
{"p":2,"l":0.6,"d":0,"x":34.5,"y":500},{"p":2,"l":0.6,"d":0,"x":37.9,"y":461},{"p":2,"l":0.6,"d":0,"x":44.8,"y":428},{"p":2,"l":0.6,"d":0,"x":50.5,"y":397},{"p":2,"l":0.6,"d":0,"x":55.5,"y":375},{"p":2,"l":0.6,"d":0,"x":62,"y":354},{"p":2,"l":0.6,"d":0,"x":66.5,"y":335},{"p":2,"l":0.6,"d":0,"x":71.2,"y":322},{"p":2,"l":0.6,"d":0,"x":75.8,"y":305.7},{"p":2,"l":0.6,"d":0,"x":85,"y":292},{"p":2,"l":0.6,"d":0,"x":94.7,"y":278.7},{"p":2,"l":0.6,"d":0,"x":102.2,"y":290.2},{"p":2,"l":0.6,"d":0,"x":114.8,"y":305.7},{"p":2,"l":0.6,"d":0,"x":117.1,"y":315},{"p":2,"l":0.6,"d":0,"x":117.7,"y":354},{"p":2,"l":0.6,"d":0,"x":116.5,"y":387},{"p":2,"l":0.6,"d":0,"x":113.7,"y":420},{"p":2,"l":0.6,"d":0,"x":109.1,"y":453},{"p":2,"l":0.6,"d":0,"x":105,"y":500},
{"p":2,"l":0.6,"d":1,"x":33.3,"y":500},{"p":2,"l":0.6,"d":1,"x":36.7,"y":461},{"p":2,"l":0.6,"d":1,"x":43.6,"y":428},{"p":2,"l":0.6,"d":1,"x":48.8,"y":400},{"p":2,"l":0.6,"d":1,"x":54,"y":375},{"p":2,"l":0.6,"d":1,"x":59.7,"y":354},{"p":2,"l":0.6,"d":1,"x":64,"y":335},{"p":2,"l":0.6,"d":1,"x":70,"y":317},{"p":2,"l":0.6,"d":1,"x":76.9,"y":304},{"p":2,"l":0.6,"d":1,"x":90.7,"y":287.7},{"p":2,"l":0.6,"d":1,"x":94.7,"y":283.6},{"p":2,"l":0.6,"d":1,"x":104.5,"y":299.2},{"p":2,"l":0.6,"d":1,"x":107.9,"y":305.7},{"p":2,"l":0.6,"d":1,"x":111.4,"y":308.6},{"p":2,"l":0.6,"d":1,"x":114.8,"y":338},{"p":2,"l":0.6,"d":1,"x":114.8,"y":370.9},{"p":2,"l":0.6,"d":1,"x":113.1,"y":403.7},{"p":2,"l":0.6,"d":1,"x":109.1,"y":436.5},{"p":2,"l":0.6,"d":1,"x":105.5,"y":469.3},{"p":2,"l":0.6,"d":1,"x":103.5,"y":500},
{"p":2,"l":0.7,"d":0,"x":39,"y":500},{"p":2,"l":0.7,"d":0,"x":43.6,"y":453},{"p":2,"l":0.7,"d":0,"x":49.4,"y":420},{"p":2,"l":0.7,"d":0,"x":54,"y":397},{"p":2,"l":0.7,"d":0,"x":59.7,"y":374},{"p":2,"l":0.7,"d":0,"x":66.6,"y":354.5},{"p":2,"l":0.7,"d":0,"x":74.6,"y":330},{"p":2,"l":0.7,"d":0,"x":85,"y":312.7},{"p":2,"l":0.7,"d":0,"x":94.7,"y":309},{"p":2,"l":0.7,"d":0,"x":103.9,"y":306},{"p":2,"l":0.7,"d":0,"x":107.9,"y":312},{"p":2,"l":0.7,"d":0,"x":111.5,"y":340},{"p":2,"l":0.7,"d":0,"x":112.5,"y":354.5},{"p":2,"l":0.7,"d":0,"x":112.5,"y":387},{"p":2,"l":0.7,"d":0,"x":109.5,"y":420},{"p":2,"l":0.7,"d":0,"x":105,"y":453},{"p":2,"l":0.7,"d":0,"x":100.5,"y":500},
{"p":2,"l":0.7,"d":1,"x":38.5,"y":500},{"p":2,"l":0.7,"d":1,"x":43,"y":453},{"p":2,"l":0.7,"d":1,"x":48.2,"y":420},{"p":2,"l":0.7,"d":1,"x":52.8,"y":397.2},{"p":2,"l":0.7,"d":1,"x":58.5,"y":374.2},{"p":2,"l":0.7,"d":1,"x":64.9,"y":354},{"p":2,"l":0.7,"d":1,"x":73.5,"y":333.2},{"p":2,"l":0.7,"d":1,"x":85,"y":314.8},{"p":2,"l":0.7,"d":1,"x":103.9,"y":314.8},{"p":2,"l":0.7,"d":1,"x":110.2,"y":338},{"p":2,"l":0.7,"d":1,"x":112,"y":352.9},{"p":2,"l":0.7,"d":1,"x":112,"y":387.3},{"p":2,"l":0.7,"d":1,"x":109,"y":420},{"p":2,"l":0.7,"d":1,"x":104.5,"y":453},{"p":2,"l":0.7,"d":1,"x":100.8,"y":500},
{"p":2,"l":0.8,"d":0,"x":43.4,"y":500},{"p":2,"l":0.8,"d":0,"x":49.4,"y":459.5},{"p":2,"l":0.8,"d":0,"x":56.3,"y":436.5},{"p":2,"l":0.8,"d":0,"x":59.7,"y":415},{"p":2,"l":0.8,"d":0,"x":66.6,"y":387},{"p":2,"l":0.8,"d":0,"x":73.5,"y":372.6},{"p":2,"l":0.8,"d":0,"x":75.8,"y":353},{"p":2,"l":0.8,"d":0,"x":85,"y":340.6},{"p":2,"l":0.8,"d":0,"x":94.7,"y":330.8},{"p":2,"l":0.8,"d":0,"x":103.9,"y":341.4},{"p":2,"l":0.8,"d":0,"x":107.3,"y":352},{"p":2,"l":0.8,"d":0,"x":107.9,"y":372.6},{"p":2,"l":0.8,"d":0,"x":106.2,"y":397},{"p":2,"l":0.8,"d":0,"x":101,"y":431.6},{"p":2,"l":0.8,"d":0,"x":97.6,"y":459.5},{"p":2,"l":0.8,"d":0,"x":95.5,"y":500},
{"p":2,"l":0.8,"d":1,"x":42.7,"y":500},{"p":2,"l":0.8,"d":1,"x":47.1,"y":469},{"p":2,"l":0.8,"d":1,"x":52.2,"y":440},{"p":2,"l":0.8,"d":1,"x":57.4,"y":415},{"p":2,"l":0.8,"d":1,"x":64.3,"y":387},{"p":2,"l":0.8,"d":1,"x":68.9,"y":372.6},{"p":2,"l":0.8,"d":1,"x":72.3,"y":353.7},{"p":2,"l":0.8,"d":1,"x":80.4,"y":343},{"p":2,"l":0.8,"d":1,"x":94.1,"y":336.5},{"p":2,"l":0.8,"d":1,"x":103.3,"y":351},{"p":2,"l":0.8,"d":1,"x":105,"y":374},{"p":2,"l":0.8,"d":1,"x":104.5,"y":397},{"p":2,"l":0.8,"d":1,"x":99.9,"y":431.6},{"p":2,"l":0.8,"d":1,"x":97,"y":458},{"p":2,"l":0.8,"d":1,"x":96.5,"y":500},
{"p":2,"l":0.9,"d":0,"x":52.8,"y":500},{"p":2,"l":0.9,"d":0,"x":56.3,"y":469.3},{"p":2,"l":0.9,"d":0,"x":59.7,"y":452.9},{"p":2,"l":0.9,"d":0,"x":65.4,"y":430},{"p":2,"l":0.9,"d":0,"x":72.3,"y":416},{"p":2,"l":0.9,"d":0,"x":78.1,"y":395.5},{"p":2,"l":0.9,"d":0,"x":85,"y":371},{"p":2,"l":0.9,"d":0,"x":90.7,"y":373.4},{"p":2,"l":0.9,"d":0,"x":94.7,"y":389},{"p":2,"l":0.9,"d":0,"x":97,"y":416},{"p":2,"l":0.9,"d":0,"x":95.9,"y":433.3},{"p":2,"l":0.9,"d":0,"x":93,"y":452.9},{"p":2,"l":0.9,"d":0,"x":90.1,"y":469.3},{"p":2,"l":0.9,"d":0,"x":86.7,"y":500},
{"p":2,"l":0.9,"d":1,"x":49.9,"y":500},{"p":2,"l":0.9,"d":1,"x":54,"y":469.3},{"p":2,"l":0.9,"d":1,"x":59.7,"y":446.4},{"p":2,"l":0.9,"d":1,"x":66.6,"y":420},{"p":2,"l":0.9,"d":1,"x":73.5,"y":395.5},{"p":2,"l":0.9,"d":1,"x":82.7,"y":375},{"p":2,"l":0.9,"d":1,"x":88.4,"y":372.6},{"p":2,"l":0.9,"d":1,"x":95.3,"y":397.2},{"p":2,"l":0.9,"d":1,"x":96.4,"y":420},{"p":2,"l":0.9,"d":1,"x":95.3,"y":439.8},{"p":2,"l":0.9,"d":1,"x":93.6,"y":456.2},{"p":2,"l":0.9,"d":1,"x":93,"y":500},
{"p":3,"l":0.1,"d":0,"x":29.6,"y":500},{"p":3,"l":0.1,"d":0,"x":37.9,"y":482.5},{"p":3,"l":0.1,"d":0,"x":47.6,"y":448},{"p":3,"l":0.1,"d":0,"x":49.4,"y":433.3},{"p":3,"l":0.1,"d":0,"x":56.8,"y":407},{"p":3,"l":0.1,"d":0,"x":59.7,"y":397.2},{"p":3,"l":0.1,"d":0,"x":63.1,"y":374.2},{"p":3,"l":0.1,"d":0,"x":66.6,"y":367.7},{"p":3,"l":0.1,"d":0,"x":71.2,"y":346.3},{"p":3,"l":0.1,"d":0,"x":78.1,"y":321.7},{"p":3,"l":0.1,"d":0,"x":82.7,"y":300},{"p":3,"l":0.1,"d":0,"x":86.1,"y":291},{"p":3,"l":0.1,"d":0,"x":90.7,"y":268},{"p":3,"l":0.1,"d":0,"x":96.4,"y":250},{"p":3,"l":0.1,"d":0,"x":105.6,"y":225.4},{"p":3,"l":0.1,"d":0,"x":113.7,"y":205.7},{"p":3,"l":0.1,"d":0,"x":123.4,"y":192.6},{"p":3,"l":0.1,"d":0,"x":142.4,"y":194.2},{"p":3,"l":0.1,"d":0,"x":148.7,"y":204.9},{"p":3,"l":0.1,"d":0,"x":149.2,"y":226.2},{"p":3,"l":0.1,"d":0,"x":152.1,"y":231.1},{"p":3,"l":0.1,"d":0,"x":156.7,"y":246.7},{"p":3,"l":0.1,"d":0,"x":161.9,"y":284.4},{"p":3,"l":0.1,"d":0,"x":163.5,"y":300},{"p":3,"l":0.1,"d":0,"x":165.3,"y":330},{"p":3,"l":0.1,"d":0,"x":168.2,"y":354.5},{"p":3,"l":0.1,"d":0,"x":169.9,"y":403.7},{"p":3,"l":0.1,"d":0,"x":171,"y":428.3},{"p":3,"l":0.1,"d":0,"x":171.6,"y":457.9},{"p":3,"l":0.1,"d":0,"x":169.3,"y":477.5},{"p":3,"l":0.1,"d":0,"x":165.9,"y":500},
{"p":3,"l":0.1,"d":1,"x":28.7,"y":500},{"p":3,"l":0.1,"d":1,"x":34.4,"y":480.8},{"p":3,"l":0.1,"d":1,"x":39,"y":469.3},{"p":3,"l":0.1,"d":1,"x":43,"y":449.7},{"p":3,"l":0.1,"d":1,"x":47.1,"y":433.3},{"p":3,"l":0.1,"d":1,"x":50.5,"y":416.9},{"p":3,"l":0.1,"d":1,"x":55.1,"y":400.5},{"p":3,"l":0.1,"d":1,"x":57.4,"y":387.3},{"p":3,"l":0.1,"d":1,"x":64.3,"y":357.8},{"p":3,"l":0.1,"d":1,"x":68.9,"y":343},{"p":3,"l":0.1,"d":1,"x":74.6,"y":321.7},{"p":3,"l":0.1,"d":1,"x":79.2,"y":300},{"p":3,"l":0.1,"d":1,"x":85,"y":277.9},{"p":3,"l":0.1,"d":1,"x":88.4,"y":264.7},{"p":3,"l":0.1,"d":1,"x":94.1,"y":251.6},{"p":3,"l":0.1,"d":1,"x":101,"y":227},{"p":3,"l":0.1,"d":1,"x":106.8,"y":215.5},{"p":3,"l":0.1,"d":1,"x":113.7,"y":198.3},{"p":3,"l":0.1,"d":1,"x":123.4,"y":193.5},{"p":3,"l":0.1,"d":1,"x":129.7,"y":194.2},{"p":3,"l":0.1,"d":1,"x":142.4,"y":196.7},{"p":3,"l":0.1,"d":1,"x":146.4,"y":205.7},{"p":3,"l":0.1,"d":1,"x":147.5,"y":225.4},{"p":3,"l":0.1,"d":1,"x":150.4,"y":235.2},{"p":3,"l":0.1,"d":1,"x":153.8,"y":253.3},{"p":3,"l":0.1,"d":1,"x":156.7,"y":272.9},{"p":3,"l":0.1,"d":1,"x":161.9,"y":300},{"p":3,"l":0.1,"d":1,"x":165.3,"y":330},{"p":3,"l":0.1,"d":1,"x":167,"y":354.5},{"p":3,"l":0.1,"d":1,"x":168.2,"y":403.7},{"p":3,"l":0.1,"d":1,"x":169.3,"y":428.3},{"p":3,"l":0.1,"d":1,"x":169.9,"y":457.9},{"p":3,"l":0.1,"d":1,"x":168.8,"y":477.5},{"p":3,"l":0.1,"d":1,"x":166.5,"y":500},
{"p":3,"l":0.2,"d":0,"x":36.7,"y":500},{"p":3,"l":0.2,"d":0,"x":42.5,"y":480.8},{"p":3,"l":0.2,"d":0,"x":47.1,"y":459.5},{"p":3,"l":0.2,"d":0,"x":52.8,"y":439.8},{"p":3,"l":0.2,"d":0,"x":57.4,"y":426.7},{"p":3,"l":0.2,"d":0,"x":59.7,"y":415.2},{"p":3,"l":0.2,"d":0,"x":66.6,"y":400.5},{"p":3,"l":0.2,"d":0,"x":71.2,"y":370.9},{"p":3,"l":0.2,"d":0,"x":78.1,"y":346.3},{"p":3,"l":0.2,"d":0,"x":85,"y":321.7},{"p":3,"l":0.2,"d":0,"x":89.5,"y":305.7},{"p":3,"l":0.2,"d":0,"x":95.3,"y":289.3},{"p":3,"l":0.2,"d":0,"x":101,"y":272.9},{"p":3,"l":0.2,"d":0,"x":110.2,"y":246.7},{"p":3,"l":0.2,"d":0,"x":113.7,"y":236.9},{"p":3,"l":0.2,"d":0,"x":123.4,"y":233.6},{"p":3,"l":0.2,"d":0,"x":133.2,"y":241.8},{"p":3,"l":0.2,"d":0,"x":142.4,"y":259.8},{"p":3,"l":0.2,"d":0,"x":144.6,"y":269.7},{"p":3,"l":0.2,"d":0,"x":149.2,"y":291},{"p":3,"l":0.2,"d":0,"x":151.5,"y":300},{"p":3,"l":0.2,"d":0,"x":156.1,"y":330},{"p":3,"l":0.2,"d":0,"x":158.4,"y":354.5},{"p":3,"l":0.2,"d":0,"x":160.7,"y":403.7},{"p":3,"l":0.2,"d":0,"x":161.9,"y":428.3},{"p":3,"l":0.2,"d":0,"x":163,"y":457.9},{"p":3,"l":0.2,"d":0,"x":161.3,"y":477.5},{"p":3,"l":0.2,"d":0,"x":159,"y":500},
{"p":3,"l":0.2,"d":1,"x":34.4,"y":500},{"p":3,"l":0.2,"d":1,"x":39.6,"y":482.5},{"p":3,"l":0.2,"d":1,"x":43.6,"y":464.4},{"p":3,"l":0.2,"d":1,"x":48.2,"y":448},{"p":3,"l":0.2,"d":1,"x":51.7,"y":433.3},{"p":3,"l":0.2,"d":1,"x":56.3,"y":413.6},{"p":3,"l":0.2,"d":1,"x":62,"y":395.5},{"p":3,"l":0.2,"d":1,"x":68.9,"y":374.2},{"p":3,"l":0.2,"d":1,"x":74.6,"y":348},{"p":3,"l":0.2,"d":1,"x":81.5,"y":325},{"p":3,"l":0.2,"d":1,"x":86.5,"y":300},{"p":3,"l":0.2,"d":1,"x":90.7,"y":286},{"p":3,"l":0.2,"d":1,"x":96.4,"y":272.9},{"p":3,"l":0.2,"d":1,"x":101,"y":256.5},{"p":3,"l":0.2,"d":1,"x":107.9,"y":246.7},{"p":3,"l":0.2,"d":1,"x":113.7,"y":231.1},{"p":3,"l":0.2,"d":1,"x":121.7,"y":235.2},{"p":3,"l":0.2,"d":1,"x":132,"y":245},{"p":3,"l":0.2,"d":1,"x":140.1,"y":266.4},{"p":3,"l":0.2,"d":1,"x":143.5,"y":281.1},{"p":3,"l":0.2,"d":1,"x":148.1,"y":300},{"p":3,"l":0.2,"d":1,"x":152.7,"y":330},{"p":3,"l":0.2,"d":1,"x":156.1,"y":354.5},{"p":3,"l":0.2,"d":1,"x":157.9,"y":403.7},{"p":3,"l":0.2,"d":1,"x":159.6,"y":428.3},{"p":3,"l":0.2,"d":1,"x":160.1,"y":457.9},{"p":3,"l":0.2,"d":1,"x":159,"y":477.5},{"p":3,"l":0.2,"d":1,"x":157.3,"y":500},
{"p":3,"l":0.3,"d":0,"x":42.5,"y":500},{"p":3,"l":0.3,"d":0,"x":45.9,"y":477.5},{"p":3,"l":0.3,"d":0,"x":51.7,"y":452.9},{"p":3,"l":0.3,"d":0,"x":59.7,"y":431.6},{"p":3,"l":0.3,"d":0,"x":65.4,"y":410.3},{"p":3,"l":0.3,"d":0,"x":72.3,"y":387.3},{"p":3,"l":0.3,"d":0,"x":78.1,"y":362.7},{"p":3,"l":0.3,"d":0,"x":85,"y":338},{"p":3,"l":0.3,"d":0,"x":91.8,"y":313.5},{"p":3,"l":0.3,"d":0,"x":97.6,"y":296.3},{"p":3,"l":0.3,"d":0,"x":101,"y":292.6},{"p":3,"l":0.3,"d":0,"x":107.9,"y":272.9},{"p":3,"l":0.3,"d":0,"x":113.7,"y":261.5},{"p":3,"l":0.3,"d":0,"x":123.4,"y":262.3},{"p":3,"l":0.3,"d":0,"x":133.2,"y":272.9},{"p":3,"l":0.3,"d":0,"x":138.9,"y":289.3},{"p":3,"l":0.3,"d":0,"x":142.4,"y":300},{"p":3,"l":0.3,"d":0,"x":147,"y":330},{"p":3,"l":0.3,"d":0,"x":151.5,"y":370.9},{"p":3,"l":0.3,"d":0,"x":155,"y":403.7},{"p":3,"l":0.3,"d":0,"x":156.7,"y":436.5},{"p":3,"l":0.3,"d":0,"x":157.3,"y":469.3},{"p":3,"l":0.3,"d":0,"x":155.6,"y":500},
{"p":3,"l":0.3,"d":1,"x":39.6,"y":500},{"p":3,"l":0.3,"d":1,"x":43.6,"y":477.5},{"p":3,"l":0.3,"d":1,"x":48.8,"y":454.6},{"p":3,"l":0.3,"d":1,"x":56.3,"y":433.3},{"p":3,"l":0.3,"d":1,"x":62,"y":410.3},{"p":3,"l":0.3,"d":1,"x":68.9,"y":387.3},{"p":3,"l":0.3,"d":1,"x":75.8,"y":361.1},{"p":3,"l":0.3,"d":1,"x":82.7,"y":338},{"p":3,"l":0.3,"d":1,"x":89.5,"y":313.5},{"p":3,"l":0.3,"d":1,"x":95.3,"y":296.3},{"p":3,"l":0.3,"d":1,"x":98.7,"y":291},{"p":3,"l":0.3,"d":1,"x":105.6,"y":272.9},{"p":3,"l":0.3,"d":1,"x":113.7,"y":259},{"p":3,"l":0.3,"d":1,"x":120.5,"y":264.7},{"p":3,"l":0.3,"d":1,"x":129.7,"y":276.2},{"p":3,"l":0.3,"d":1,"x":135.5,"y":289.3},{"p":3,"l":0.3,"d":1,"x":139,"y":300},{"p":3,"l":0.3,"d":1,"x":144.6,"y":330},{"p":3,"l":0.3,"d":1,"x":149.2,"y":370.9},{"p":3,"l":0.3,"d":1,"x":152.7,"y":403.7},{"p":3,"l":0.3,"d":1,"x":154.4,"y":436.5},{"p":3,"l":0.3,"d":1,"x":154.4,"y":469.3},{"p":3,"l":0.3,"d":1,"x":153.3,"y":500},
{"p":3,"l":0.4,"d":0,"x":45.9,"y":500},{"p":3,"l":0.4,"d":0,"x":50.5,"y":477.5},{"p":3,"l":0.4,"d":0,"x":56.3,"y":452.9},{"p":3,"l":0.4,"d":0,"x":64.3,"y":430},{"p":3,"l":0.4,"d":0,"x":70,"y":407},{"p":3,"l":0.4,"d":0,"x":76.9,"y":384},{"p":3,"l":0.4,"d":0,"x":83.8,"y":357.8},{"p":3,"l":0.4,"d":0,"x":91.8,"y":330},{"p":3,"l":0.4,"d":0,"x":99.9,"y":305.4},{"p":3,"l":0.4,"d":0,"x":103.3,"y":299.2},{"p":3,"l":0.4,"d":0,"x":110.2,"y":282.8},{"p":3,"l":0.4,"d":0,"x":114.2,"y":279.5},{"p":3,"l":0.4,"d":0,"x":123.4,"y":282.8},{"p":3,"l":0.4,"d":0,"x":130.9,"y":292.6},{"p":3,"l":0.4,"d":0,"x":135.5,"y":305.7},{"p":3,"l":0.4,"d":0,"x":141.2,"y":330},{"p":3,"l":0.4,"d":0,"x":145.8,"y":370.9},{"p":3,"l":0.4,"d":0,"x":150.4,"y":403.7},{"p":3,"l":0.4,"d":0,"x":152.7,"y":436.5},{"p":3,"l":0.4,"d":0,"x":153.3,"y":469.3},{"p":3,"l":0.4,"d":0,"x":152.7,"y":500},
{"p":3,"l":0.4,"d":1,"x":44.2,"y":500},{"p":3,"l":0.4,"d":1,"x":48.2,"y":477.5},{"p":3,"l":0.4,"d":1,"x":54,"y":452.9},{"p":3,"l":0.4,"d":1,"x":62,"y":430},{"p":3,"l":0.4,"d":1,"x":67.7,"y":407},{"p":3,"l":0.4,"d":1,"x":74.6,"y":384},{"p":3,"l":0.4,"d":1,"x":81.5,"y":357.8},{"p":3,"l":0.4,"d":1,"x":89.5,"y":330},{"p":3,"l":0.4,"d":1,"x":96.4,"y":308.6},{"p":3,"l":0.4,"d":1,"x":102.2,"y":295.9},{"p":3,"l":0.4,"d":1,"x":109.1,"y":286.1},{"p":3,"l":0.4,"d":1,"x":114.8,"y":283.6},{"p":3,"l":0.4,"d":1,"x":119.4,"y":286.1},{"p":3,"l":0.4,"d":1,"x":126.3,"y":295.9},{"p":3,"l":0.4,"d":1,"x":129.7,"y":305.7},{"p":3,"l":0.4,"d":1,"x":137.8,"y":330},{"p":3,"l":0.4,"d":1,"x":143.5,"y":370.9},{"p":3,"l":0.4,"d":1,"x":148.1,"y":403.7},{"p":3,"l":0.4,"d":1,"x":150.4,"y":436.5},{"p":3,"l":0.4,"d":1,"x":151,"y":469.3},{"p":3,"l":0.4,"d":1,"x":150.4,"y":500},
{"p":3,"l":0.5,"d":0,"x":51.1,"y":500},{"p":3,"l":0.5,"d":0,"x":55.1,"y":477.5},{"p":3,"l":0.5,"d":0,"x":60.8,"y":454.6},{"p":3,"l":0.5,"d":0,"x":68.9,"y":433.3},{"p":3,"l":0.5,"d":0,"x":74.6,"y":410.3},{"p":3,"l":0.5,"d":0,"x":81.5,"y":387.3},{"p":3,"l":0.5,"d":0,"x":88.4,"y":362.7},{"p":3,"l":0.5,"d":0,"x":95.3,"y":338},{"p":3,"l":0.5,"d":0,"x":103.3,"y":313.5},{"p":3,"l":0.5,"d":0,"x":113.7,"y":297.1},{"p":3,"l":0.5,"d":0,"x":122.8,"y":298.8},{"p":3,"l":0.5,"d":0,"x":127.4,"y":313.5},{"p":3,"l":0.5,"d":0,"x":133.2,"y":338},{"p":3,"l":0.5,"d":0,"x":137.8,"y":370.9},{"p":3,"l":0.5,"d":0,"x":143.5,"y":403.7},{"p":3,"l":0.5,"d":0,"x":147,"y":436.5},{"p":3,"l":0.5,"d":0,"x":149.2,"y":469.3},{"p":3,"l":0.5,"d":0,"x":150.4,"y":500},
{"p":3,"l":0.5,"d":1,"x":49.4,"y":500},{"p":3,"l":0.5,"d":1,"x":52.8,"y":477.5},{"p":3,"l":0.5,"d":1,"x":58.5,"y":454.6},{"p":3,"l":0.5,"d":1,"x":66.6,"y":433.3},{"p":3,"l":0.5,"d":1,"x":72.3,"y":410.3},{"p":3,"l":0.5,"d":1,"x":79.2,"y":387.3},{"p":3,"l":0.5,"d":1,"x":86.1,"y":362.7},{"p":3,"l":0.5,"d":1,"x":93,"y":338},{"p":3,"l":0.5,"d":1,"x":101,"y":313.5},{"p":3,"l":0.5,"d":1,"x":110.2,"y":300.4},{"p":3,"l":0.5,"d":1,"x":113.7,"y":301.2},{"p":3,"l":0.5,"d":1,"x":119.4,"y":308.6},{"p":3,"l":0.5,"d":1,"x":124,"y":321.7},{"p":3,"l":0.5,"d":1,"x":129.7,"y":338},{"p":3,"l":0.5,"d":1,"x":134.3,"y":370.9},{"p":3,"l":0.5,"d":1,"x":140.1,"y":403.7},{"p":3,"l":0.5,"d":1,"x":144.1,"y":436.5},{"p":3,"l":0.5,"d":1,"x":146.4,"y":469.3},{"p":3,"l":0.5,"d":1,"x":147.5,"y":500},
{"p":3,"l":0.6,"d":0,"x":55.1,"y":500},{"p":3,"l":0.6,"d":0,"x":59.7,"y":477.5},{"p":3,"l":0.6,"d":0,"x":65.4,"y":454.6},{"p":3,"l":0.6,"d":0,"x":73.5,"y":431.6},{"p":3,"l":0.6,"d":0,"x":79.2,"y":410.3},{"p":3,"l":0.6,"d":0,"x":86.1,"y":387.3},{"p":3,"l":0.6,"d":0,"x":93,"y":362.7},{"p":3,"l":0.6,"d":0,"x":101,"y":341.4},{"p":3,"l":0.6,"d":0,"x":106.8,"y":328.3},{"p":3,"l":0.6,"d":0,"x":113.7,"y":314.3},{"p":3,"l":0.6,"d":0,"x":123.4,"y":317.6},{"p":3,"l":0.6,"d":0,"x":127.4,"y":330},{"p":3,"l":0.6,"d":0,"x":132,"y":354.5},{"p":3,"l":0.6,"d":0,"x":136.6,"y":387.3},{"p":3,"l":0.6,"d":0,"x":141.2,"y":420.1},{"p":3,"l":0.6,"d":0,"x":144.6,"y":452.9},{"p":3,"l":0.6,"d":0,"x":146.9,"y":477.5},{"p":3,"l":0.6,"d":0,"x":147.5,"y":500},
{"p":3,"l":0.6,"d":1,"x":53.4,"y":500},{"p":3,"l":0.6,"d":1,"x":57.4,"y":477.5},{"p":3,"l":0.6,"d":1,"x":63.1,"y":454.6},{"p":3,"l":0.6,"d":1,"x":71.2,"y":431.6},{"p":3,"l":0.6,"d":1,"x":76.9,"y":410.3},{"p":3,"l":0.6,"d":1,"x":83.8,"y":387.3},{"p":3,"l":0.6,"d":1,"x":90.7,"y":362.7},{"p":3,"l":0.6,"d":1,"x":98.7,"y":343},{"p":3,"l":0.6,"d":1,"x":105.6,"y":325},{"p":3,"l":0.6,"d":1,"x":111.4,"y":316.8},{"p":3,"l":0.6,"d":1,"x":115.9,"y":320},{"p":3,"l":0.6,"d":1,"x":121.7,"y":330},{"p":3,"l":0.6,"d":1,"x":126.3,"y":346.3},{"p":3,"l":0.6,"d":1,"x":132,"y":370.9},{"p":3,"l":0.6,"d":1,"x":136.6,"y":403.7},{"p":3,"l":0.6,"d":1,"x":140.6,"y":436.5},{"p":3,"l":0.6,"d":1,"x":143.5,"y":469.3},{"p":3,"l":0.6,"d":1,"x":144.6,"y":500},
{"p":3,"l":0.7,"d":0,"x":59.7,"y":500},{"p":3,"l":0.7,"d":0,"x":63.1,"y":480.8},{"p":3,"l":0.7,"d":0,"x":68.9,"y":459.5},{"p":3,"l":0.7,"d":0,"x":74.6,"y":439.8},{"p":3,"l":0.7,"d":0,"x":80.4,"y":423.4},{"p":3,"l":0.7,"d":0,"x":85,"y":410.3},{"p":3,"l":0.7,"d":0,"x":91.8,"y":390.6},{"p":3,"l":0.7,"d":0,"x":98.7,"y":370.9},{"p":3,"l":0.7,"d":0,"x":105.6,"y":351.3},{"p":3,"l":0.7,"d":0,"x":113.7,"y":327.5},{"p":3,"l":0.7,"d":0,"x":118.2,"y":333.2},{"p":3,"l":0.7,"d":0,"x":124,"y":346.3},{"p":3,"l":0.7,"d":0,"x":129.7,"y":370.9},{"p":3,"l":0.7,"d":0,"x":135.5,"y":403.7},{"p":3,"l":0.7,"d":0,"x":138.9,"y":428.3},{"p":3,"l":0.7,"d":0,"x":142.4,"y":461.1},{"p":3,"l":0.7,"d":0,"x":144.1,"y":485.7},{"p":3,"l":0.7,"d":0,"x":145.2,"y":500},
{"p":3,"l":0.7,"d":1,"x":57.4,"y":500},{"p":3,"l":0.7,"d":1,"x":60.8,"y":480.8},{"p":3,"l":0.7,"d":1,"x":66.6,"y":459.5},{"p":3,"l":0.7,"d":1,"x":72.3,"y":439.8},{"p":3,"l":0.7,"d":1,"x":78.1,"y":420.1},{"p":3,"l":0.7,"d":1,"x":82.7,"y":407},{"p":3,"l":0.7,"d":1,"x":89.5,"y":387.3},{"p":3,"l":0.7,"d":1,"x":96.4,"y":367.7},{"p":3,"l":0.7,"d":1,"x":103.3,"y":348},{"p":3,"l":0.7,"d":1,"x":111.4,"y":330},{"p":3,"l":0.7,"d":1,"x":115.9,"y":331.6},{"p":3,"l":0.7,"d":1,"x":121.7,"y":344.7},{"p":3,"l":0.7,"d":1,"x":126.3,"y":362.7},{"p":3,"l":0.7,"d":1,"x":132,"y":387.3},{"p":3,"l":0.7,"d":1,"x":136.6,"y":420.1},{"p":3,"l":0.7,"d":1,"x":140.1,"y":452.9},{"p":3,"l":0.7,"d":1,"x":142.4,"y":485.7},{"p":3,"l":0.7,"d":1,"x":142.9,"y":500},
{"p":3,"l":0.8,"d":0,"x":63.7,"y":500},{"p":3,"l":0.8,"d":0,"x":66,"y":479.2},{"p":3,"l":0.8,"d":0,"x":71.2,"y":466.1},{"p":3,"l":0.8,"d":0,"x":74.6,"y":457.9},{"p":3,"l":0.8,"d":0,"x":76.9,"y":443.1},{"p":3,"l":0.8,"d":0,"x":82.7,"y":423.4},{"p":3,"l":0.8,"d":0,"x":86.1,"y":410.3},{"p":3,"l":0.8,"d":0,"x":91.8,"y":395.5},{"p":3,"l":0.8,"d":0,"x":97.6,"y":374.2},{"p":3,"l":0.8,"d":0,"x":104.5,"y":361.1},{"p":3,"l":0.8,"d":0,"x":113.7,"y":352.9},{"p":3,"l":0.8,"d":0,"x":123.4,"y":367.7},{"p":3,"l":0.8,"d":0,"x":129.7,"y":384.1},{"p":3,"l":0.8,"d":0,"x":133.7,"y":420.1},{"p":3,"l":0.8,"d":0,"x":137.8,"y":452.9},{"p":3,"l":0.8,"d":0,"x":140.6,"y":477.5},{"p":3,"l":0.8,"d":0,"x":142.4,"y":500},
{"p":3,"l":0.8,"d":1,"x":61.4,"y":500},{"p":3,"l":0.8,"d":1,"x":64.3,"y":482.5},{"p":3,"l":0.8,"d":1,"x":68.9,"y":462.8},{"p":3,"l":0.8,"d":1,"x":73.5,"y":448},{"p":3,"l":0.8,"d":1,"x":79.2,"y":436.5},{"p":3,"l":0.8,"d":1,"x":85,"y":413.6},{"p":3,"l":0.8,"d":1,"x":91.8,"y":397.2},{"p":3,"l":0.8,"d":1,"x":95.3,"y":387.3},{"p":3,"l":0.8,"d":1,"x":99.9,"y":370.9},{"p":3,"l":0.8,"d":1,"x":104.5,"y":356.2},{"p":3,"l":0.8,"d":1,"x":113.7,"y":355.4},{"p":3,"l":0.8,"d":1,"x":124,"y":374.2},{"p":3,"l":0.8,"d":1,"x":127.4,"y":387.3},{"p":3,"l":0.8,"d":1,"x":129.7,"y":410.3},{"p":3,"l":0.8,"d":1,"x":132,"y":436.5},{"p":3,"l":0.8,"d":1,"x":133.7,"y":461.1},{"p":3,"l":0.8,"d":1,"x":135.5,"y":485.7},{"p":3,"l":0.8,"d":1,"x":138.3,"y":500},
{"p":3,"l":0.9,"d":0,"x":71.2,"y":500},{"p":3,"l":0.9,"d":0,"x":74.6,"y":479},{"p":3,"l":0.9,"d":0,"x":82.7,"y":458},{"p":3,"l":0.9,"d":0,"x":85,"y":446},{"p":3,"l":0.9,"d":0,"x":94.1,"y":417},{"p":3,"l":0.9,"d":0,"x":101,"y":397},{"p":3,"l":0.9,"d":0,"x":104.5,"y":384},{"p":3,"l":0.9,"d":0,"x":114.8,"y":394},{"p":3,"l":0.9,"d":0,"x":123.4,"y":420},{"p":3,"l":0.9,"d":0,"x":132.6,"y":458},{"p":3,"l":0.9,"d":0,"x":134.3,"y":477.5},{"p":3,"l":0.9,"d":0,"x":134.9,"y":500},
{"p":3,"l":0.9,"d":1,"x":68.9,"y":500},{"p":3,"l":0.9,"d":1,"x":72.3,"y":470},{"p":3,"l":0.9,"d":1,"x":78.6,"y":439.8},{"p":3,"l":0.9,"d":1,"x":80.4,"y":428.3},{"p":3,"l":0.9,"d":1,"x":84.4,"y":416.9},{"p":3,"l":0.9,"d":1,"x":90.7,"y":403.7},{"p":3,"l":0.9,"d":1,"x":98.7,"y":387.3},{"p":3,"l":0.9,"d":1,"x":104.5,"y":373.4},{"p":3,"l":0.9,"d":1,"x":113.7,"y":393.9},{"p":3,"l":0.9,"d":1,"x":120.5,"y":410.3},{"p":3,"l":0.9,"d":1,"x":126.3,"y":436.5},{"p":3,"l":0.9,"d":1,"x":130.9,"y":469.3},{"p":3,"l":0.9,"d":1,"x":133.2,"y":485.7},{"p":3,"l":0.9,"d":1,"x":133.7,"y":500}
]},
"spacing": 0,
"bounds": "flush",
"resolve": {"scale": {"color": "shared", "strokeDash": "shared"}, "legend": {"color": "shared"}},
"hconcat": [
{
 "width": 623, "height": 813,
 "title": {"text": "[5, 100] keV", "dx": 45, "offset": -20, "baseline": "alphabetic", "anchor": "middle"},
 "data": {"name": "c"},
 "transform": [{"filter": "datum.p == 1"}],
 "resolve": {"axis": {"x": "independent", "y": "independent"}},
 "layer": [
  {"mark": {"type": "line", "clip": true},
   "encoding": {
    "x": {"field": "x", "type": "quantitative", "scale": {"domain": [0, 180], "nice": false, "zero": false},
          "axis": {"orient": "bottom", "values": [0,10,20,30,40,50,60,70,80,90,100,110,120,130,140,150,160,170,180], "labelExpr": "datum.value % 20 === 0 && datum.value < 180 ? datum.label : ''", "tickSize": {"condition": {"test": "datum.value % 20 === 0", "value": -15}, "value": -8}, "labelPadding": 19, "title": null}},
    "y": {"field": "y", "type": "quantitative", "scale": {"domain": [100, 500], "nice": false, "zero": false},
          "axis": {"orient": "left", "values": [100,110,120,130,140,150,160,170,180,190,200,210,220,230,240,250,260,270,280,290,300,310,320,330,340,350,360,370,380,390,400,410,420,430,440,450,460,470,480,490,500], "labelExpr": "datum.value % 50 === 0 ? datum.label : ''", "tickSize": {"condition": {"test": "datum.value % 50 === 0", "value": -17}, "value": -8}, "labelPadding": 24, "title": "vₛₜᵣ [km s⁻¹]", "titleFontSize": 52, "titlePadding": 6}},
    "color": {"field": "l", "type": "quantitative", "title": "S₉₅", "scale": {"domain": [0,0.1,0.2,0.3,0.4,0.5,0.6,0.7,0.8,0.9,1], "range": ["#5e4fa2","#3288bd","#66c2a5","#abdda4","#e6f598","#ffffbf","#fee08b","#fdae61","#f46d43","#d53e4f","#9e0142"]}, "legend": {"values": [0,0.1,0.2,0.3,0.4,0.5,0.6,0.7,0.8,0.9,1], "format": ".1~f"}},
    "strokeDash": {"field": "d", "type": "nominal", "scale": {"domain": [0, 1], "range": [[1, 0], [10, 5]]}, "legend": null},
    "detail": [{"field": "l", "type": "quantitative"}, {"field": "d", "type": "nominal"}],
    "order": {"value": null}
   }},
  {"mark": {"type": "point", "opacity": 0},
   "encoding": {
    "x": {"field": "x", "type": "quantitative", "scale": {"domain": [0, 180], "nice": false, "zero": false},
          "axis": {"orient": "top", "values": [0,10,20,30,40,50,60,70,80,90,100,110,120,130,140,150,160,170,180], "labels": false, "tickSize": {"condition": {"test": "datum.value % 20 === 0", "value": -15}, "value": -8}, "title": null}},
    "y": {"field": "y", "type": "quantitative", "scale": {"domain": [100, 500], "nice": false, "zero": false},
          "axis": {"orient": "right", "values": [100,110,120,130,140,150,160,170,180,190,200,210,220,230,240,250,260,270,280,290,300,310,320,330,340,350,360,370,380,390,400,410,420,430,440,450,460,470,480,490,500], "labels": false, "tickSize": {"condition": {"test": "datum.value % 50 === 0", "value": -17}, "value": -8}, "title": null}}
   }}
 ]
},
{
 "width": 623, "height": 813,
 "title": {"text": "[5, 50] keV", "dx": 4, "offset": -11, "baseline": "alphabetic", "anchor": "middle"},
 "data": {"name": "c"},
 "transform": [{"filter": "datum.p == 2"}],
 "resolve": {"axis": {"x": "independent", "y": "independent"}},
 "layer": [
  {"mark": {"type": "line", "clip": true},
   "encoding": {
    "x": {"field": "x", "type": "quantitative", "scale": {"domain": [0, 180], "nice": false, "zero": false},
          "axis": {"orient": "bottom", "values": [0,10,20,30,40,50,60,70,80,90,100,110,120,130,140,150,160,170,180], "labelExpr": "datum.value % 20 === 0 ? datum.label : ''", "tickSize": {"condition": {"test": "datum.value % 20 === 0", "value": -15}, "value": -8}, "labelPadding": 19, "title": "Δθ [deg.]", "titleFontSize": 44, "titlePadding": -2}},
    "y": {"field": "y", "type": "quantitative", "scale": {"domain": [100, 500], "nice": false, "zero": false},
          "axis": {"orient": "left", "values": [100,110,120,130,140,150,160,170,180,190,200,210,220,230,240,250,260,270,280,290,300,310,320,330,340,350,360,370,380,390,400,410,420,430,440,450,460,470,480,490,500], "labels": false, "tickSize": {"condition": {"test": "datum.value % 50 === 0", "value": -17}, "value": -8}, "title": null}},
    "color": {"field": "l", "type": "quantitative", "title": "S₉₅", "scale": {"domain": [0,0.1,0.2,0.3,0.4,0.5,0.6,0.7,0.8,0.9,1], "range": ["#5e4fa2","#3288bd","#66c2a5","#abdda4","#e6f598","#ffffbf","#fee08b","#fdae61","#f46d43","#d53e4f","#9e0142"]}, "legend": {"values": [0,0.1,0.2,0.3,0.4,0.5,0.6,0.7,0.8,0.9,1], "format": ".1~f"}},
    "strokeDash": {"field": "d", "type": "nominal", "scale": {"domain": [0, 1], "range": [[1, 0], [10, 5]]}, "legend": null},
    "detail": [{"field": "l", "type": "quantitative"}, {"field": "d", "type": "nominal"}],
    "order": {"value": null}
   }},
  {"mark": {"type": "point", "opacity": 0},
   "encoding": {
    "x": {"field": "x", "type": "quantitative", "scale": {"domain": [0, 180], "nice": false, "zero": false},
          "axis": {"orient": "top", "values": [0,10,20,30,40,50,60,70,80,90,100,110,120,130,140,150,160,170,180], "labels": false, "tickSize": {"condition": {"test": "datum.value % 20 === 0", "value": -15}, "value": -8}, "title": null}},
    "y": {"field": "y", "type": "quantitative", "scale": {"domain": [100, 500], "nice": false, "zero": false},
          "axis": {"orient": "right", "values": [100,110,120,130,140,150,160,170,180,190,200,210,220,230,240,250,260,270,280,290,300,310,320,330,340,350,360,370,380,390,400,410,420,430,440,450,460,470,480,490,500], "labels": false, "tickSize": {"condition": {"test": "datum.value % 50 === 0", "value": -17}, "value": -8}, "title": null}}
   }}
 ]
},
{
 "width": 623, "height": 813,
 "title": {"text": "[20, 100] keV", "dx": -20, "offset": -11, "baseline": "alphabetic", "anchor": "middle"},
 "data": {"name": "c"},
 "transform": [{"filter": "datum.p == 3"}],
 "resolve": {"axis": {"x": "independent", "y": "independent"}},
 "layer": [
  {"mark": {"type": "line", "clip": true},
   "encoding": {
    "x": {"field": "x", "type": "quantitative", "scale": {"domain": [0, 180], "nice": false, "zero": false},
          "axis": {"orient": "bottom", "values": [0,10,20,30,40,50,60,70,80,90,100,110,120,130,140,150,160,170,180], "labelExpr": "datum.value % 20 === 0 && datum.value > 0 ? datum.label : ''", "tickSize": {"condition": {"test": "datum.value % 20 === 0", "value": -15}, "value": -8}, "labelPadding": 19, "title": null}},
    "y": {"field": "y", "type": "quantitative", "scale": {"domain": [100, 500], "nice": false, "zero": false},
          "axis": {"orient": "left", "values": [100,110,120,130,140,150,160,170,180,190,200,210,220,230,240,250,260,270,280,290,300,310,320,330,340,350,360,370,380,390,400,410,420,430,440,450,460,470,480,490,500], "labels": false, "tickSize": {"condition": {"test": "datum.value % 50 === 0", "value": -17}, "value": -8}, "title": null}},
    "color": {"field": "l", "type": "quantitative", "title": "S₉₅", "scale": {"domain": [0,0.1,0.2,0.3,0.4,0.5,0.6,0.7,0.8,0.9,1], "range": ["#5e4fa2","#3288bd","#66c2a5","#abdda4","#e6f598","#ffffbf","#fee08b","#fdae61","#f46d43","#d53e4f","#9e0142"]}, "legend": {"values": [0,0.1,0.2,0.3,0.4,0.5,0.6,0.7,0.8,0.9,1], "format": ".1~f"}},
    "strokeDash": {"field": "d", "type": "nominal", "scale": {"domain": [0, 1], "range": [[1, 0], [10, 5]]}, "legend": null},
    "detail": [{"field": "l", "type": "quantitative"}, {"field": "d", "type": "nominal"}],
    "order": {"value": null}
   }},
  {"mark": {"type": "point", "opacity": 0},
   "encoding": {
    "x": {"field": "x", "type": "quantitative", "scale": {"domain": [0, 180], "nice": false, "zero": false},
          "axis": {"orient": "top", "values": [0,10,20,30,40,50,60,70,80,90,100,110,120,130,140,150,160,170,180], "labels": false, "tickSize": {"condition": {"test": "datum.value % 20 === 0", "value": -15}, "value": -8}, "title": null}},
    "y": {"field": "y", "type": "quantitative", "scale": {"domain": [100, 500], "nice": false, "zero": false},
          "axis": {"orient": "right", "values": [100,110,120,130,140,150,160,170,180,190,200,210,220,230,240,250,260,270,280,290,300,310,320,330,340,350,360,370,380,390,400,410,420,430,440,450,460,470,480,490,500], "labels": false, "tickSize": {"condition": {"test": "datum.value % 50 === 0", "value": -17}, "value": -8}, "title": null}}
   }}
 ]
}
]
}
